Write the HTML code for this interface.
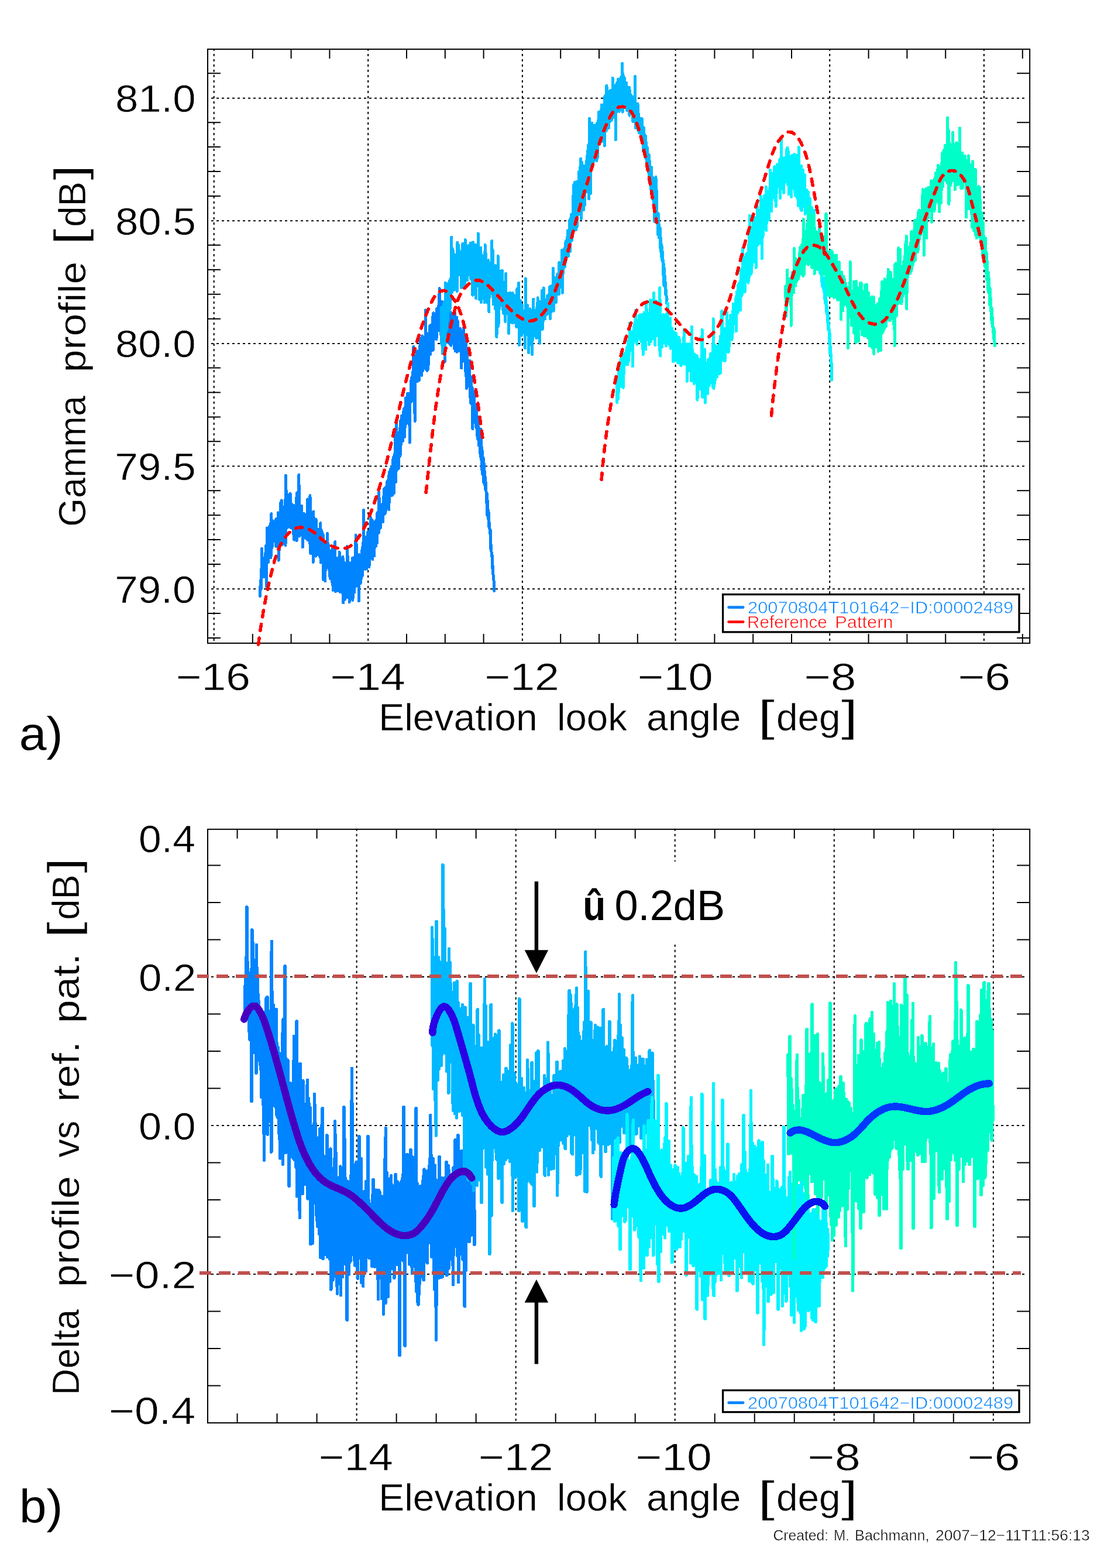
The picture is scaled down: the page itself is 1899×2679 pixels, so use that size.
<!DOCTYPE html>
<html lang="en"><head><meta charset="utf-8"><title>Gamma profile vs reference pattern</title>
<style>html,body{margin:0;padding:0;background:#fff}svg{display:block}text{white-space:pre}</style></head>
<body>
<svg xmlns="http://www.w3.org/2000/svg" width="1899" height="2679" viewBox="0 0 1899 2679" font-family='"Liberation Sans", sans-serif'>
<rect width="1899" height="2679" fill="#fff"/>
<g id="plotA">
<g stroke="#000" stroke-width="2" fill="none">
<path d="M365.70,83.07V1098.90" stroke-dasharray="4 5"/>
<path d="M629.20,83.07V1098.90" stroke-dasharray="4 5"/>
<path d="M892.90,83.07V1098.90" stroke-dasharray="4 5"/>
<path d="M1154.60,83.07V1098.90" stroke-dasharray="4 5"/>
<path d="M1418.20,83.07V1098.90" stroke-dasharray="4 5"/>
<path d="M1681.90,83.07V1098.90" stroke-dasharray="4 5"/>
<path d="M361,167.70H1755.15" stroke-dasharray="4 5"/>
<path d="M361,377.30H1755.15" stroke-dasharray="4 5"/>
<path d="M361,587.00H1755.15" stroke-dasharray="4 5"/>
<path d="M361,796.60H1755.15" stroke-dasharray="4 5"/>
<path d="M361,1006.25H1755.15" stroke-dasharray="4 5"/>
<path d="M431.80,84.07v16M431.80,1098.90v-16M497.60,84.07v16M497.60,1098.90v-16M563.40,84.07v16M563.40,1098.90v-16M695.00,84.07v16M695.00,1098.90v-16M760.80,84.07v16M760.80,1098.90v-16M826.60,84.07v16M826.60,1098.90v-16M958.20,84.07v16M958.20,1098.90v-16M1024.00,84.07v16M1024.00,1098.90v-16M1089.80,84.07v16M1089.80,1098.90v-16M1221.40,84.07v16M1221.40,1098.90v-16M1287.20,84.07v16M1287.20,1098.90v-16M1353.00,84.07v16M1353.00,1098.90v-16M1484.60,84.07v16M1484.60,1098.90v-16M1550.40,84.07v16M1550.40,1098.90v-16M1616.20,84.07v16M1616.20,1098.90v-16M1747.80,84.07v16M1747.80,1098.90v-16M355.00,1089.88h22M1760.15,1089.88h-22M355.00,1047.94h22M1760.15,1047.94h-22M355.00,964.06h22M1760.15,964.06h-22M355.00,922.12h22M1760.15,922.12h-22M355.00,880.18h22M1760.15,880.18h-22M355.00,838.24h22M1760.15,838.24h-22M355.00,754.36h22M1760.15,754.36h-22M355.00,712.42h22M1760.15,712.42h-22M355.00,670.48h22M1760.15,670.48h-22M355.00,628.54h22M1760.15,628.54h-22M355.00,544.66h22M1760.15,544.66h-22M355.00,502.72h22M1760.15,502.72h-22M355.00,460.78h22M1760.15,460.78h-22M355.00,418.84h22M1760.15,418.84h-22M355.00,334.96h22M1760.15,334.96h-22M355.00,293.02h22M1760.15,293.02h-22M355.00,251.08h22M1760.15,251.08h-22M355.00,209.14h22M1760.15,209.14h-22M355.00,125.26h22M1760.15,125.26h-22"/>
</g>
<rect x="355.00" y="84.07" width="1405.15" height="1014.83" fill="none" stroke="#000" stroke-width="2"/>
<g fill="none" stroke-width="5" stroke-linejoin="round" stroke-linecap="round" shape-rendering="crispEdges">
<path stroke="#0084ff" d="M444.5,1018.6L445.3,991.9L446,1007.4L446.7,993.7L447.5,937.4L448.2,975.2L449,959.3L449.7,969.9L450.4,970.4L451.2,985.8L451.9,953.2L452.6,982.5L453.4,945.8L454.1,967.3L454.9,931.6L455.6,1002.3L456.3,902.1L457.1,956.2L457.8,902.6L458.5,960.9L459.3,909.9L460,944.1L460.7,899L461.5,943L462.2,894.8L463,953L463.7,877.7L464.4,936.5L465.2,888.6L465.9,933.3L466.6,894L467.4,922.2L468.1,895.7L468.9,922.7L469.6,890.7L470.3,922.4L471.1,888L471.8,933.6L472.5,886.1L473.3,923.7L474,888.8L474.8,929.7L475.5,875.7L476.2,957.3L477,881.5L477.7,938.9L478.4,876.7L479.2,928.7L479.9,858.1L480.6,904.1L481.4,854.8L482.1,931L482.9,866.2L483.6,897.9L484.3,870.2L485.1,899.2L485.8,869.3L486.5,901.1L487.3,853.5L488,932.1L488.8,812.5L489.5,895.5L490.2,870.6L491,901.5L491.7,845.1L492.4,900.8L493.2,868.6L493.9,888.6L494.6,864.1L495.4,898.9L496.1,843.2L496.9,901.7L497.6,860.8L498.3,902.2L499.1,862.1L499.8,893.3L500.5,866.9L501.3,912.3L502,863.8L502.8,922.3L503.5,868.8L504.2,914.7L505,866.7L505.7,902.6L506.4,850.5L507.2,923.7L507.9,841.9L508.7,913.8L509.4,860.7L510.1,895.6L510.9,811.1L511.6,916.3L512.3,863.1L513.1,898.5L513.8,869.8L514.5,905.5L515.3,864.1L516,914.2L516.8,877.6L517.5,935L518.2,878.6L519,903.4L519.7,877.6L520.4,914.3L521.2,878.7L521.9,919.4L522.7,888.5L523.4,915.9L524.1,881.5L524.9,921.3L525.6,852.9L526.3,922.8L527.1,877.9L527.8,916.9L528.5,886.9L529.3,928.6L530,846.6L530.8,945.6L531.5,886.5L532.2,923.9L533,896.9L533.7,921L534.4,898.5L535.2,960.5L535.9,874.2L536.7,932.9L537.4,892L538.1,945.3L538.9,901L539.6,950.3L540.3,887.4L541.1,932.1L541.8,905.8L542.6,947.6L543.3,907.7L544,941.1L544.8,904.5L545.5,942.4L546.2,922L547,951.9L547.7,893.7L548.4,961.2L549.2,905.4L549.9,952.3L550.7,909.7L551.4,950.3L552.1,913.1L552.9,990.7L553.6,925.9L554.3,969.2L555.1,927.8L555.8,992.8L556.6,927.6L557.3,971.2L558,928.5L558.8,964.7L559.5,911.1L560.2,968.5L561,928.7L561.7,971.5L562.4,943.5L563.2,984.5L563.9,945L564.7,988.8L565.4,940.9L566.1,974.4L566.9,939.6L567.6,994.5L568.3,935.5L569.1,1008.3L569.8,947.2L570.6,998.3L571.3,935L572,988.7L572.8,925.7L573.5,1010.6L574.2,952.9L575,1003.8L575.7,967.5L576.5,1009.2L577.2,963.5L577.9,1004L578.7,963L579.4,1004.5L580.1,942.9L580.9,1011.4L581.6,963.9L582.3,1006.8L583.1,973.6L583.8,1003.5L584.6,966.5L585.3,1013.2L586,950.9L586.8,1029.9L587.5,967.4L588.2,1001.4L589,961.5L589.7,1024.2L590.5,975.4L591.2,1006.8L591.9,973.9L592.7,1003.5L593.4,933.7L594.1,1020.6L594.9,950.9L595.6,999.6L596.3,965.4L597.1,1029L597.8,967.2L598.6,1022.6L599.3,962.5L600,1016.1L600.8,960.9L601.5,1014.5L602.2,953.6L603,1025.5L603.7,953.3L604.5,1002.2L605.2,959.3L605.9,1012.2L606.7,951.4L607.4,990.3L608.1,914L608.9,1001.5L609.6,930.6L610.4,985.3L611.1,960.9L611.8,988.6L612.6,964.1L613.3,1027L614,947.8L614.8,988.6L615.5,960.1L616.2,996.7L617,956.1L617.7,987.7L618.5,940.9L619.2,984.2L619.9,934.8L620.7,973.5L621.4,871.5L622.1,967L622.9,938.6L623.6,969.8L624.4,929.6L625.1,972.3L625.8,917.2L626.6,971.9L627.3,919L628,961.6L628.8,908.7L629.5,955.5L630.2,913L631,968.8L631.7,917.4L632.5,952.9L633.2,883.2L633.9,949.3L634.7,915.2L635.4,946L636.1,887.9L636.9,955.8L637.6,908.8L638.4,931.1L639.1,899.8L639.8,949.7L640.6,900.7L641.3,931.9L642,889.8L642.8,933.1L643.5,893.9L644.3,928.3L645,875.6L645.7,908.7L646.5,877.2L647.2,910.8L647.9,840.8L648.7,902.2L649.4,872.3L650.1,902.3L650.9,869.5L651.6,888.2L652.4,866.8L653.1,883.8L653.8,860.8L654.6,891.7L655.3,849L656,875.1L656.8,834.8L657.5,878.2L658.3,850.6L659,875.7L659.7,832.3L660.5,858.9L661.2,824.1L661.9,854.9L662.7,820.9L663.4,858.7L664.1,813.1L664.9,871L665.6,806.6L666.4,841.1L667.1,801.6L667.8,846.9L668.6,802.8L669.3,834.3L670,797.2L670.8,846.2L671.5,785.5L672.3,816.6L673,779.9L673.7,842.3L674.5,775.3L675.2,813.7L675.9,745.4L676.7,823.4L677.4,721.6L678.2,803.7L678.9,740.3L679.6,791.2L680.4,739.1L681.1,800.5L681.8,740.3L682.6,779L683.3,732L684,779.3L684.8,718.3L685.5,759.4L686.3,710.5L687,752.5L687.7,714L688.5,753.6L689.2,704L689.9,737.9L690.7,698.2L691.4,746.7L692.2,696.3L692.9,728.7L693.6,679.7L694.4,723.7L695.1,679L695.8,721.6L696.6,672.3L697.3,700.7L698,672.8L698.8,709.6L699.5,677.5L700.3,756.1L701,674L701.7,683.6L702.5,650.7L703.2,686.3L703.9,644.4L704.7,679.1L705.4,635.6L706.2,681.6L706.9,592.4L707.6,673.3L708.4,622.1L709.1,719.5L709.8,629.2L710.6,652.2L711.3,616.3L712.1,649.4L712.8,599.6L713.5,652L714.3,603.9L715,644.8L715.7,606.7L716.5,649.6L717.2,592.2L717.9,630L718.7,578.4L719.4,638.9L720.2,585L720.9,641.4L721.6,573.8L722.4,633.4L723.1,577.6L723.8,614.4L724.6,576.8L725.3,614.7L726.1,581.8L726.8,629.4L727.5,530L728.3,631.4L729,568.5L729.7,633.4L730.5,577.4L731.2,631.6L731.9,571.1L732.7,622L733.4,570.2L734.2,601.9L734.9,556.3L735.6,605.6L736.4,555.6L737.1,599.4L737.8,555.7L738.6,583L739.3,541.6L740.1,598.4L740.8,534.7L741.5,579.9L742.3,535.9L743,571.7L743.7,538.9L744.5,577.1L745.2,541.6L746,579.9L746.7,527.2L747.4,565.2L748.2,528.1L748.9,561.8L749.6,521.9L750.4,564.9L751.1,492.6L751.8,556.5L752.6,514.4L753.3,571.5L754.1,515.9L754.8,561.4L755.5,515.4L756.3,568.2L757,528.3L757.7,588.6L758.5,518.8L759.2,577.5L760,527L760.7,617.4L761.4,528.4L762.2,577.4L762.9,532.9L763.6,573.4L764.4,530.7L765.1,584.7L765.9,517L766.6,573.8L767.3,534.3L768.1,584.4L768.8,537.7L769.5,588.7L770.3,533.6L771,590.2L771.7,539.5L772.5,581.9L773.2,541L774,580.1L774.7,539.3L775.4,581.6L776.2,549.5L776.9,596.3L777.6,534.9L778.4,599.9L779.1,548.1L779.9,592L780.6,542.1L781.3,601.4L782.1,547.9L782.8,599.6L783.5,564.3L784.3,600L785,562.5L785.7,593.5L786.5,561.6L787.2,599.7L788,565.3L788.7,628.8L789.4,565.2L790.2,607.1L790.9,571.1L791.6,617.2L792.4,560.1L793.1,611.7L793.9,581.5L794.6,616.1L795.3,586.8L796.1,641.8L796.8,577.3L797.5,663.6L798.3,601.5L799,648.5L799.8,619.3L800.5,656.8L801.2,627.9L802,660.3L802.7,616.1L803.4,678.4L804.2,643.1L804.9,689.4L805.6,644.7L806.4,687L807.1,662.2L807.9,732.8L808.6,668.3L809.3,721.6L810.1,668.5L810.8,711.4L811.5,690.6L812.3,716.2L813,691.4L813.8,730.2L814.5,703L815.2,743.7L816,712.3L816.7,749.6L817.4,726.8L818.2,760.6L818.9,731.7L819.6,761L820.4,746L821.1,780L821.9,733L822.6,786L823.3,763.9L824.1,808.7L824.8,771.1L825.5,811.7L826.3,782.4L827,825.3L827.8,793.2L828.5,828.8L829.2,814.7L830,837.3L830.7,825.2L831.4,857.9L832.2,842.1L832.9,880.9L833.7,855.9L834.4,886.6L835.1,875L835.9,900.9L836.6,893.8L837.3,911.2L838.1,905.3L838.8,938.2L839.5,931.5L840.3,949.9L841,947.2L841.8,971.4L842.5,967.9L843.2,986.7L844,991.9L844.7,1009.4"/>
<path stroke="#00b8ff" d="M754,524.9L754.7,587.3L755.4,547.6L756.2,603.6L756.9,525.5L757.7,589.5L758.4,519.7L759.1,594.6L759.9,514.8L760.6,607.3L761.3,483.1L762.1,566.5L762.8,514.1L763.6,562L764.3,489.4L765,548.9L765.8,484.9L766.5,527.2L767.2,482.6L768,531.8L768.7,479.2L769.4,527.3L770.2,475.8L770.9,511.8L771.7,405L772.4,500L773.1,424.4L773.9,494.4L774.6,428.8L775.3,495.9L776.1,454.6L776.8,483.7L777.6,436.7L778.3,494.9L779,435L779.8,473.5L780.5,437.1L781.2,497.7L782,414.5L782.7,468.6L783.4,418.5L784.2,466.3L784.9,427.2L785.7,469.5L786.4,430.7L787.1,463.1L787.9,429.9L788.6,491.4L789.3,442.9L790.1,472.8L790.8,416.2L791.6,488.8L792.3,437.1L793,484.8L793.8,422.9L794.5,487.4L795.2,409.7L796,466.8L796.7,419.9L797.5,474.1L798.2,422.2L798.9,478.9L799.7,427.7L800.4,462.4L801.1,419.5L801.9,468.2L802.6,425.1L803.3,463.8L804.1,415L804.8,476.7L805.6,431.4L806.3,472.4L807,436.5L807.8,504.3L808.5,413.9L809.2,495.9L810,427.4L810.7,502.5L811.5,429.5L812.2,502.8L812.9,418.2L813.7,509.7L814.4,431.4L815.1,474.8L815.9,419L816.6,480.1L817.3,398.9L818.1,489L818.8,424.4L819.6,511.7L820.3,432.7L821,497.4L821.8,423L822.5,516.5L823.2,435.4L824,507.9L824.7,442.3L825.5,498.7L826.2,437.8L826.9,510.3L827.7,443.3L828.4,516.7L829.1,418.2L829.9,499.3L830.6,433.5L831.4,514.3L832.1,449L832.8,517.1L833.6,458.3L834.3,492L835,444.7L835.8,532.7L836.5,458.9L837.2,503.8L838,452.8L838.7,498.1L839.5,469L840.2,495.1L840.9,411.8L841.7,503.5L842.4,428.5L843.1,520.1L843.9,468.3L844.6,502.9L845.4,466.7L846.1,527.3L846.8,453.7L847.6,509.6L848.3,461.5L849,575.6L849.8,475.8L850.5,530.2L851.2,437.5L852,557.2L852.7,463.2L853.5,527.3L854.2,478.5L854.9,521.9L855.7,481.9L856.4,519.9L857.1,462.6L857.9,518.7L858.6,462.4L859.4,529.5L860.1,482.5L860.8,535.5L861.6,487.2L862.3,525.5L863,484.8L863.8,549.5L864.5,467.2L865.3,535.8L866,506.6L866.7,535.6L867.5,501.3L868.2,528.8L868.9,501.7L869.7,569.6L870.4,502.4L871.1,540.3L871.9,500.1L872.6,550.7L873.4,506.7L874.1,540.1L874.8,514.5L875.6,551.4L876.3,500.7L877,551.9L877.8,516.4L878.5,551L879.3,504.9L880,548.9L880.7,520.4L881.5,550.8L882.2,518.8L882.9,558.7L883.7,493.6L884.4,549.8L885.1,527.9L885.9,557.3L886.6,483.6L887.4,589.5L888.1,519.6L888.8,564.1L889.6,513.4L890.3,558.7L891,526.4L891.8,573.2L892.5,521L893.3,567.4L894,531.3L894.7,557.8L895.5,535L896.2,568.7L896.9,531.7L897.7,594.9L898.4,475.9L899.2,558.8L899.9,537.2L900.6,570.9L901.4,521.5L902.1,571.8L902.8,533.5L903.6,602.5L904.3,531.5L905,577.7L905.8,527.6L906.5,588.5L907.3,532.9L908,563.1L908.7,537.2L909.5,605.8L910.2,530L910.9,579.6L911.7,511L912.4,569.2L913.2,530.4L913.9,573.8L914.6,532.6L915.4,565.5L916.1,533.5L916.8,577.5L917.6,525.5L918.3,577.2L919.1,508.8L919.8,576.9L920.5,523.4L921.3,550.6L922,525.9L922.7,586.4L923.5,515.6L924.2,553.2L924.9,516.7L925.7,561.8L926.4,496.5L927.2,562.6L927.9,518.4L928.6,548.3L929.4,491.9L930.1,539.3L930.8,513.1L931.6,545L932.3,518.2L933.1,535.9L933.8,512.3L934.5,537.1L935.3,505.5L936,536.4L936.7,512L937.5,532.2L938.2,503L938.9,531.2L939.7,489.9L940.4,544.6L941.2,495.2L941.9,533.1L942.6,488.4L943.4,525L944.1,488.5L944.8,519.1L945.6,458.6L946.3,531.4L947.1,478.2L947.8,516.4L948.5,474.2L949.3,509.6L950,483.9L950.7,516.5L951.5,478L952.2,502.4L953,468.4L953.7,496.3L954.4,468L955.2,503L955.9,448.5L956.6,486.7L957.4,454.6L958.1,484.4L958.8,449.5L959.6,481.7L960.3,427.5L961.1,500.5L961.8,432L962.5,468L963.3,443.9L964,456.8L964.7,424.5L965.5,455.6L966.2,414.6L967,447.6L967.7,411.3L968.4,439.5L969.2,405.7L969.9,433.7L970.6,393.7L971.4,437.4L972.1,402.6L972.8,423.7L973.6,376.1L974.3,429.7L975.1,373.1L975.8,406.4L976.5,366.6L977.3,411.2L978,372.6L978.7,404L979.5,334.8L980.2,391.3L981,315.2L981.7,393L982.4,311.8L983.2,386.1L983.9,311.3L984.6,392.8L985.4,310.5L986.1,388L986.9,314.2L987.6,362.1L988.3,316.9L989.1,366.4L989.8,292.8L990.5,350L991.3,286L992,351L992.7,271L993.5,373.9L994.2,277L995,347.5L995.7,286.6L996.4,352L997.2,283.2L997.9,358.5L998.6,286.2L999.4,351.1L1000.1,284.1L1000.9,321.2L1001.6,282.1L1002.3,320.8L1003.1,267L1003.8,327.5L1004.5,257.1L1005.3,312.2L1006,246.8L1006.7,339.8L1007.5,202.5L1008.2,299.1L1009,238.6L1009.7,330.6L1010.4,238.6L1011.2,282.8L1011.9,210.4L1012.6,283.5L1013.4,249L1014.1,277.5L1014.9,232.5L1015.6,268.8L1016.3,213.8L1017.1,270.9L1017.8,219.9L1018.5,272.7L1019.3,214.1L1020,275.1L1020.8,209.9L1021.5,268.4L1022.2,206.1L1023,246.9L1023.7,191.2L1024.4,241.5L1025.2,204.2L1025.9,236.7L1026.6,192.9L1027.4,238.4L1028.1,178.9L1028.9,241.4L1029.6,180.1L1030.3,238L1031.1,185.7L1031.8,222.8L1032.5,178.7L1033.3,249.1L1034,163.7L1034.8,217.3L1035.5,177.6L1036.2,223.5L1037,146.2L1037.7,210.5L1038.4,168.7L1039.2,201.8L1039.9,170.6L1040.6,218.4L1041.4,176L1042.1,208.3L1042.9,154.8L1043.6,204.4L1044.3,160.3L1045.1,206L1045.8,170L1046.5,184.8L1047.3,133.4L1048,201L1048.8,151.3L1049.5,192.1L1050.2,152.6L1051,183.1L1051.7,145.9L1052.4,238.8L1053.2,145.6L1053.9,191.5L1054.7,141L1055.4,184.2L1056.1,135.7L1056.9,181.9L1057.6,135.6L1058.3,190.6L1059.1,142.5L1059.8,188L1060.5,150.3L1061.3,175.3L1062,131.2L1062.8,186.9L1063.5,108.1L1064.2,191.3L1065,125.6L1065.7,183.1L1066.4,153.2L1067.2,174.8L1067.9,133.5L1068.7,174.8L1069.4,156L1070.1,178.6L1070.9,141.5L1071.6,188.6L1072.3,158.3L1073.1,188.2L1073.8,158.7L1074.5,180.6L1075.3,149.1L1076,197.3L1076.8,155.2L1077.5,180L1078.2,161.6L1079,193.7L1079.7,166.8L1080.4,193.6L1081.2,166.2L1081.9,207.9L1082.7,165.5L1083.4,195.8L1084.1,166.3L1084.9,207.7L1085.6,130.3L1086.3,218.6L1087.1,180.1L1087.8,209.7L1088.6,181L1089.3,208.9L1090,177.3L1090.8,222.5L1091.5,194.5L1092.2,226.9L1093,202.3L1093.7,225.6L1094.4,204.1L1095.2,233.2L1095.9,201.9L1096.7,235L1097.4,203.2L1098.1,235.9L1098.9,219.3L1099.6,258.8L1100.3,217.8L1101.1,257.9L1101.8,229.7L1102.6,261L1103.3,232L1104,271.4L1104.8,243.9L1105.5,282.5L1106.2,252L1107,284.4L1107.7,267.9L1108.4,293.8L1109.2,264.3L1109.9,310L1110.7,275.7L1111.4,314.5L1112.1,286.5L1112.9,324.2L1113.6,285.8L1114.3,329.2L1115.1,301.9L1115.8,340.5L1116.6,316.5L1117.3,351.9L1118,314.2L1118.8,378.5L1119.5,338.6L1120.2,375L1121,302.2L1121.7,377.5L1122.5,325.1L1123.2,379.7L1123.9,363.8L1124.7,401L1125.4,365.5L1126.1,406.1L1126.9,383.7L1127.6,404.9L1128.3,390L1129.1,429.4L1129.8,407.4L1130.6,438.9L1131.3,421.3L1132,446.2L1132.8,430.7L1133.5,469.4L1134.2,450.2L1135,488.3L1135.7,458.7L1136.5,486.7L1137.2,481.7L1137.9,504.1L1138.7,495.5L1139.4,517.8L1140.1,510.7"/>
<path stroke="#00f4ff" d="M1054.2,657.1L1054.9,687.7L1055.7,649.6L1056.4,682.3L1057.1,634.8L1057.9,670.2L1058.6,626.8L1059.3,658L1060.1,640.3L1060.8,655.8L1061.6,613.5L1062.3,660.1L1063,623.5L1063.8,649.6L1064.5,614.1L1065.2,662.4L1066,605.3L1066.7,638.6L1067.4,606.2L1068.2,623.2L1068.9,602.9L1069.7,620.3L1070.4,599.7L1071.1,622.8L1071.9,592.9L1072.6,622.8L1073.3,583.4L1074.1,617.6L1074.8,581.6L1075.6,605.8L1076.3,552L1077,598.9L1077.8,576.5L1078.5,598.1L1079.2,575.2L1080,593.9L1080.7,566.7L1081.5,626L1082.2,567.7L1082.9,586.3L1083.7,558.1L1084.4,582.2L1085.1,549.8L1085.9,581.8L1086.6,530.5L1087.3,583.6L1088.1,546.6L1088.8,588.3L1089.6,548L1090.3,570.1L1091,550.4L1091.8,577.6L1092.5,539.3L1093.2,579.8L1094,538.3L1094.7,571.4L1095.5,544.2L1096.2,583.6L1096.9,537.2L1097.7,566L1098.4,538.5L1099.1,605.8L1099.9,539.1L1100.6,594.1L1101.3,534.3L1102.1,579.6L1102.8,535.2L1103.6,596.9L1104.3,516.4L1105,581.1L1105.8,529.2L1106.5,576.3L1107.2,538.9L1108,564.7L1108.7,535.2L1109.5,588.5L1110.2,537.8L1110.9,568.1L1111.7,512.6L1112.4,583.7L1113.1,518.2L1113.9,570.2L1114.6,524.8L1115.4,571.7L1116.1,512.5L1116.8,579L1117.6,500.3L1118.3,567.2L1119,526.8L1119.8,589.7L1120.5,517.6L1121.2,571.5L1122,514.5L1122.7,566.2L1123.5,539.2L1124.2,573.7L1124.9,533.1L1125.7,564.7L1126.4,543.4L1127.1,597.9L1127.9,491.5L1128.6,608.2L1129.4,546.8L1130.1,588L1130.8,542.6L1131.6,593.2L1132.3,549.3L1133,570L1133.8,537.5L1134.5,585.3L1135.3,552.4L1136,583L1136.7,550.4L1137.5,587.3L1138.2,537.7L1138.9,591.2L1139.7,535.5L1140.4,580.2L1141.1,517.7L1141.9,586.9L1142.6,551.8L1143.4,582.4L1144.1,550L1144.8,590.6L1145.6,543.7L1146.3,595.3L1147,562.8L1147.8,585.6L1148.5,560.7L1149.3,587L1150,571.6L1150.7,617.9L1151.5,566.8L1152.2,609.1L1152.9,578.3L1153.7,602.2L1154.4,578.4L1155.1,615.3L1155.9,569.5L1156.6,607.4L1157.4,575L1158.1,619.4L1158.8,577.8L1159.6,620.1L1160.3,576L1161,619.7L1161.8,581L1162.5,614.4L1163.3,588.9L1164,624.8L1164.7,588.7L1165.5,622.4L1166.2,589.3L1166.9,617L1167.7,588.8L1168.4,616.3L1169.2,563.2L1169.9,622.2L1170.6,593.3L1171.4,617.2L1172.1,595.7L1172.8,619.4L1173.6,587.7L1174.3,651.4L1175,602.9L1175.8,623.4L1176.5,595.3L1177.3,630.2L1178,587.8L1178.7,633.9L1179.5,595.1L1180.2,627.4L1180.9,600.3L1181.7,650.8L1182.4,558.2L1183.2,642.1L1183.9,598.4L1184.6,640.5L1185.4,615.8L1186.1,655.5L1186.8,604.8L1187.6,643.6L1188.3,620.3L1189,648.5L1189.8,607.4L1190.5,649L1191.3,608.2L1192,683.2L1192.7,616.1L1193.5,661.8L1194.2,613.8L1194.9,658.6L1195.7,618L1196.4,648.5L1197.2,613.9L1197.9,665.8L1198.6,615.2L1199.4,651.3L1200.1,563L1200.8,678.7L1201.6,622.9L1202.3,654.5L1203.1,625.3L1203.8,662L1204.5,596.7L1205.3,688.2L1206,623.5L1206.7,663.6L1207.5,620.2L1208.2,661L1208.9,623.8L1209.7,672.5L1210.4,614.6L1211.2,652.4L1211.9,623.4L1212.6,658.8L1213.4,612.1L1214.1,649.7L1214.8,603.8L1215.6,653.6L1216.3,604L1217.1,642.3L1217.8,616.9L1218.5,661L1219.3,544.9L1220,663.7L1220.7,603.4L1221.5,654.3L1222.2,590.2L1222.9,648.8L1223.7,608.7L1224.4,632.1L1225.2,606.2L1225.9,643.8L1226.6,591.6L1227.4,631.9L1228.1,598.2L1228.8,638.7L1229.6,588.8L1230.3,626.4L1231.1,575.2L1231.8,637.1L1232.5,573.2L1233.3,614.4L1234,531.2L1234.7,615.9L1235.5,566L1236.2,604L1237,566.3L1237.7,614.4L1238.4,561L1239.2,616.8L1239.9,570.6L1240.6,601.2L1241.4,561.4L1242.1,595.9L1242.8,534.2L1243.6,587.9L1244.3,551.9L1245.1,602L1245.8,555.6L1246.5,591.5L1247.3,547.9L1248,576.7L1248.7,538.3L1249.5,575.9L1250.2,551.6L1251,580.4L1251.7,547.1L1252.4,569L1253.2,519.2L1253.9,553.7L1254.6,535.5L1255.4,552L1256.1,518.7L1256.8,553.1L1257.6,510.4L1258.3,565.7L1259.1,498.5L1259.8,536.3L1260.5,498L1261.3,534.1L1262,485.7L1262.7,517.7L1263.5,488.3L1264.2,529.4L1265,481.4L1265.7,529.7L1266.4,463L1267.2,506.2L1267.9,458.9L1268.6,503.3L1269.4,424L1270.1,491.9L1270.9,439.2L1271.6,492.6L1272.3,444.3L1273.1,498.7L1273.8,446.2L1274.5,477.6L1275.3,435.4L1276,474.2L1276.7,432.6L1277.5,470.9L1278.2,436.7L1279,483.2L1279.7,417.5L1280.4,474.1L1281.2,368.4L1281.9,455.9L1282.6,408.8L1283.4,468.8L1284.1,388.4L1284.9,465.1L1285.6,405.8L1286.3,444.7L1287.1,380.3L1287.8,447.6L1288.5,399.9L1289.3,437L1290,371.7L1290.7,430.2L1291.5,376.4L1292.2,457.4L1293,373.9L1293.7,409.1L1294.4,353.3L1295.2,418.8L1295.9,363.2L1296.6,415L1297.4,372.3L1298.1,399.1L1298.9,358.7L1299.6,415.6L1300.3,335.1L1301.1,402.7L1301.8,340.5L1302.5,442L1303.3,348.8L1304,404.6L1304.8,351.9L1305.5,384.4L1306.2,334.5L1307,383.1L1307.7,336.9L1308.4,386.4L1309.2,319.3L1309.9,393.8L1310.6,329.8L1311.4,370.8L1312.1,328.7L1312.9,359.7L1313.6,327.3L1314.3,375.5L1315.1,321.6L1315.8,346.3L1316.5,290.6L1317.3,352.8L1318,299.2L1318.8,360.6L1319.5,305.1L1320.2,339.2L1321,296L1321.7,334.4L1322.4,296.3L1323.2,328.7L1323.9,284.8L1324.6,328.7L1325.4,289.9L1326.1,352.5L1326.9,284.8L1327.6,328.9L1328.3,280.9L1329.1,319.4L1329.8,281.9L1330.5,314.8L1331.3,286L1332,314.9L1332.8,273.1L1333.5,338.9L1334.2,271.1L1335,322.1L1335.7,235.3L1336.4,322.8L1337.2,268.9L1337.9,316.8L1338.7,278L1339.4,329.4L1340.1,271.3L1340.9,313.3L1341.6,269.3L1342.3,310.6L1343.1,274.2L1343.8,308.9L1344.5,255.6L1345.3,305.7L1346,252.1L1346.8,316.3L1347.5,259.2L1348.2,332L1349,280.8L1349.7,303.6L1350.4,279.1L1351.2,316.9L1351.9,266.6L1352.7,336.5L1353.4,270.9L1354.1,322.3L1354.9,265.4L1355.6,317.2L1356.3,269.7L1357.1,314.8L1357.8,263.5L1358.5,328.8L1359.3,270.2L1360,334.6L1360.8,265.2L1361.5,321.2L1362.2,286.1L1363,339.4L1363.7,275L1364.4,351.4L1365.2,251.4L1365.9,339L1366.7,282.9L1367.4,335.2L1368.1,295.8L1368.9,358L1369.6,283.5L1370.3,359.8L1371.1,298.2L1371.8,343.7L1372.6,290.3L1373.3,352.4L1374,302.7L1374.8,343.4L1375.5,298.7L1376.2,365.7L1377,323.6L1377.7,352.2L1378.4,324.1L1379.2,362.3L1379.9,326.7L1380.7,363L1381.4,328.6L1382.1,390.3L1382.9,344.4L1383.6,397.7L1384.3,339L1385.1,392.2L1385.8,361.4L1386.6,389.9L1387.3,354.1L1388,420.9L1388.8,373.8L1389.5,420.5L1390.2,369L1391,415.7L1391.7,359.1L1392.4,422.7L1393.2,394.2L1393.9,444L1394.7,403.2L1395.4,438.3L1396.1,408.6L1396.9,442.7L1397.6,417.3L1398.3,441L1399.1,432.8L1399.8,461.1L1400.6,426.9L1401.3,465.1L1402,440.9L1402.8,468.3L1403.5,439.9L1404.2,481.3L1405,454.2L1405.7,489.5L1406.5,474.1L1407.2,493.5L1407.9,482.8L1408.7,498.9L1409.4,474.8L1410.1,517.3L1410.9,496.1L1411.6,520.1L1412.3,513.1L1413.1,536L1413.8,523.7L1414.6,550.4L1415.3,538.5L1416,563.7L1416.8,553.7L1417.5,585.4L1418.2,569.1L1419,605L1419.7,593L1420.5,621.9L1421.2,621L1421.9,649.2"/>
<path stroke="#00ffc8" d="M1342.7,488.7L1343.5,540.2L1344.2,500.5L1344.9,528.7L1345.7,461.4L1346.4,511L1347.2,477.1L1347.9,504.5L1348.6,476.6L1349.4,508.9L1350.1,478.5L1350.8,501.1L1351.6,475.6L1352.3,556.3L1353.1,472.2L1353.8,504.3L1354.5,465.3L1355.3,493.4L1356,465.8L1356.7,499.7L1357.5,424.2L1358.2,478.9L1359,458.1L1359.7,488.6L1360.4,441.9L1361.2,481.9L1361.9,448.5L1362.6,471.5L1363.4,445.8L1364.1,477.2L1364.8,445.3L1365.6,472.5L1366.3,433.3L1367.1,465.2L1367.8,422.5L1368.5,464.7L1369.3,421.6L1370,468.3L1370.7,418.2L1371.5,467.5L1372.2,409L1373,471.7L1373.7,374.8L1374.4,469.1L1375.2,407.4L1375.9,453.2L1376.6,406.8L1377.4,448.8L1378.1,395.1L1378.8,450L1379.6,381.8L1380.3,433.4L1381.1,393.7L1381.8,452.5L1382.5,352.2L1383.3,433.4L1384,395.5L1384.7,443.3L1385.5,381.7L1386.2,450.5L1387,368.2L1387.7,457.3L1388.4,400.4L1389.2,455.4L1389.9,401.7L1390.6,454.3L1391.4,367.4L1392.1,467.9L1392.9,396.7L1393.6,459.6L1394.3,395.1L1395.1,435.9L1395.8,396.7L1396.5,460.3L1397.3,410.2L1398,461.1L1398.7,413.5L1399.5,443.3L1400.2,381.6L1401,452.5L1401.7,415.1L1402.4,447.8L1403.2,407.1L1403.9,446.3L1404.6,418.5L1405.4,469.8L1406.1,408.5L1406.9,453.3L1407.6,414.5L1408.3,467.9L1409.1,404.4L1409.8,461.3L1410.5,430L1411.3,471.4L1412,364.9L1412.8,486.2L1413.5,434.5L1414.2,493.3L1415,431.6L1415.7,504.1L1416.4,448L1417.2,478.3L1417.9,429.3L1418.6,506.3L1419.4,453.6L1420.1,502.5L1420.9,428L1421.6,505.7L1422.3,430L1423.1,492.5L1423.8,450.8L1424.5,489.4L1425.3,457.7L1426,508.5L1426.8,436.2L1427.5,507.7L1428.2,441.6L1429,501.5L1429.7,436L1430.4,494.5L1431.2,467L1431.9,512.6L1432.6,452.8L1433.4,503.7L1434.1,447.7L1434.9,512.1L1435.6,466.3L1436.3,507.2L1437.1,467L1437.8,546L1438.5,464.8L1439.3,520.8L1440,470.5L1440.8,530.9L1441.5,471.8L1442.2,522.1L1443,475.3L1443.7,515.3L1444.4,491.8L1445.2,516.1L1445.9,484.1L1446.7,520L1447.4,490L1448.1,524.2L1448.9,499.2L1449.6,594.5L1450.3,505.9L1451.1,532L1451.8,501.8L1452.5,541.3L1453.3,447.4L1454,532L1454.8,511.6L1455.5,556.2L1456.2,499.5L1457,556L1457.7,504.7L1458.4,545.1L1459.2,481.5L1459.9,569.3L1460.7,498.1L1461.4,569.8L1462.1,507.1L1462.9,585.4L1463.6,480.6L1464.3,576.7L1465.1,494.6L1465.8,559.1L1466.5,491.8L1467.3,583.3L1468,511.7L1468.8,561.7L1469.5,510L1470.2,549.9L1471,482.9L1471.7,560.5L1472.4,483.8L1473.2,571.7L1473.9,498.4L1474.7,559.8L1475.4,498.4L1476.1,565.2L1476.9,511.5L1477.6,574.3L1478.3,487.3L1479.1,573.9L1479.8,510.5L1480.6,566.9L1481.3,485.8L1482,567.1L1482.8,517.5L1483.5,577.5L1484.2,499.7L1485,572.6L1485.7,509.4L1486.4,590.9L1487.2,516.9L1487.9,580.6L1488.7,517.1L1489.4,580.2L1490.1,506.9L1490.9,594.2L1491.6,527.4L1492.3,586.6L1493.1,507L1493.8,604.6L1494.6,525.8L1495.3,569.5L1496,527.2L1496.8,592.7L1497.5,522L1498.2,560.8L1499,523.2L1499.7,589L1500.4,518.8L1501.2,600.4L1501.9,524.7L1502.7,584.5L1503.4,511.6L1504.1,557.1L1504.9,508.6L1505.6,598.6L1506.3,498.1L1507.1,570.3L1507.8,481L1508.6,566.7L1509.3,489.9L1510,566.5L1510.8,482.8L1511.5,561.9L1512.2,476.7L1513,552.1L1513.7,478.1L1514.5,557.5L1515.2,482.2L1515.9,541.6L1516.7,503.4L1517.4,537.3L1518.1,460.2L1518.9,546.9L1519.6,470L1520.3,531.6L1521.1,473.1L1521.8,547.7L1522.6,465.3L1523.3,543L1524,475.9L1524.8,526.5L1525.5,488.7L1526.2,543.8L1527,477L1527.7,554.2L1528.5,489.3L1529.2,590.8L1529.9,452.2L1530.7,520.6L1531.4,449.9L1532.1,540.2L1532.9,452.3L1533.6,512.3L1534.3,472.2L1535.1,519L1535.8,423.7L1536.6,509.9L1537.3,463.5L1538,505.5L1538.8,426.2L1539.5,517.5L1540.2,455.5L1541,518.9L1541.7,457.3L1542.5,496.8L1543.2,456.5L1543.9,505.5L1544.7,446.5L1545.4,501.9L1546.1,438.3L1546.9,482.3L1547.6,417.1L1548.4,472.5L1549.1,403.2L1549.8,527.8L1550.6,431.9L1551.3,474.2L1552,438.7L1552.8,468.3L1553.5,426L1554.2,456.1L1555,421.4L1555.7,467.2L1556.5,415L1557.2,464.3L1557.9,395.8L1558.7,458.9L1559.4,402.1L1560.1,452.6L1560.9,416.5L1561.6,446.8L1562.4,393L1563.1,444.6L1563.8,376.1L1564.6,444.7L1565.3,401.6L1566,429.3L1566.8,392.9L1567.5,428.3L1568.2,372.6L1569,430.5L1569.7,361.6L1570.5,413.9L1571.2,358.9L1571.9,407.7L1572.7,374.5L1573.4,402.2L1574.1,366.7L1574.9,396L1575.6,364.9L1576.4,390.8L1577.1,323.7L1577.8,392.2L1578.6,343.5L1579.3,436.1L1580,332.8L1580.8,376.9L1581.5,334L1582.3,380.5L1583,322L1583.7,406.7L1584.5,329L1585.2,359.9L1585.9,328.9L1586.7,371.8L1587.4,320.3L1588.1,359L1588.9,325.7L1589.6,359.3L1590.4,327.9L1591.1,351.8L1591.8,308.9L1592.6,379.4L1593.3,309.2L1594,352.2L1594.8,315.5L1595.5,355L1596.3,316.3L1597,360.8L1597.7,304.6L1598.5,348.2L1599.2,295.7L1599.9,335.4L1600.7,302.3L1601.4,344L1602.1,290.3L1602.9,340.1L1603.6,282.5L1604.4,347.1L1605.1,294L1605.8,362L1606.6,285L1607.3,342.3L1608,285.6L1608.8,346.5L1609.5,278.8L1610.3,320.4L1611,260.7L1611.7,318.7L1612.5,274.6L1613.2,306.8L1613.9,255.7L1614.7,292.3L1615.4,248.5L1616.2,291.5L1616.9,264.1L1617.6,310L1618.4,260.2L1619.1,312.9L1619.8,201.2L1620.6,289.9L1621.3,222.5L1622,348.6L1622.8,244.1L1623.5,300.6L1624.3,256.1L1625,316.2L1625.7,251L1626.5,307.3L1627.2,246.5L1627.9,308.7L1628.7,226.3L1629.4,292.9L1630.2,252.3L1630.9,295.2L1631.6,251.9L1632.4,323.7L1633.1,247.3L1633.8,303.6L1634.6,243.9L1635.3,315.4L1636,244.8L1636.8,302L1637.5,254.9L1638.3,315.4L1639,244.8L1639.7,312L1640.5,218.7L1641.2,315.3L1641.9,270.5L1642.7,321.7L1643.4,276.3L1644.2,314.5L1644.9,261.4L1645.6,321.1L1646.4,266.6L1647.1,302.9L1647.8,283.4L1648.6,302.8L1649.3,266.6L1650.1,311.2L1650.8,273.7L1651.5,371.2L1652.3,279.8L1653,329.3L1653.7,281.5L1654.5,328.1L1655.2,265.9L1655.9,356.8L1656.7,280.4L1657.4,341.9L1658.2,283L1658.9,348.2L1659.6,282.7L1660.4,364.7L1661.1,284.4L1661.8,388.5L1662.6,276L1663.3,387.4L1664.1,316.5L1664.8,394.7L1665.5,299.7L1666.3,386.7L1667,289.1L1667.7,402L1668.5,329.7L1669.2,406.8L1669.9,339.9L1670.7,381.2L1671.4,324.7L1672.2,405L1672.9,318.5L1673.6,391.3L1674.4,320.6L1675.1,403.7L1675.8,342.4L1676.6,415.1L1677.3,369.5L1678.1,415.7L1678.8,364.3L1679.5,436.9L1680.3,380.3L1681,436.6L1681.7,402.9L1682.5,442.3L1683.2,408.8L1684,455.5L1684.7,406.8L1685.4,466.4L1686.2,431.4L1686.9,478.2L1687.6,446.3L1688.4,494.5L1689.1,464.7L1689.8,500.4L1690.6,475.4L1691.3,520.2L1692.1,492.5L1692.8,522.3L1693.5,509.9L1694.3,545.9L1695,525.6L1695.7,553.2L1696.5,542.1L1697.2,566.7L1698,558.7L1698.7,579.4L1699.4,564.1L1700.2,591"/>
</g>
<g fill="none" stroke="#ff0000" stroke-width="5.6" stroke-dasharray="11.2 12.6" stroke-linecap="round" stroke-linejoin="round" shape-rendering="crispEdges">
<path d="M441.7,1101.1L442.7,1093L443.8,1085L445,1077L446.1,1069.1L447.4,1061.2L448.7,1053.4L450,1045.5L451.4,1037.7L452.8,1029.9L454.3,1022.1L455.9,1014.4L457.5,1006.6L459.2,998.8L461,991L462.8,983.1L464.8,975.3L466.7,967.4L468.8,959.5L471.2,951.7L473.8,944L476.8,936.5L480.2,929.4L484.2,922.6L488.9,916.2L494.3,910.3L500.4,905.3L507.2,901.9L514.6,900.8L522.5,902.1L530.2,905.4L537.3,910L543.5,915.4L549.5,920.9L555.6,926L562.1,930.4L569.2,934L576.9,936.6L585,937.6L592.6,936.3L599.3,932.8L605.3,927.6L610.6,921.3L615.2,914.5L619.4,907.4L623.2,900.3L626.6,893L629.7,885.7L632.7,878.3L635.6,870.8L638.3,863.3L641,855.8L643.5,848.3L646,840.7L648.4,833.1L650.7,825.4L653,817.8L655.2,810.1L657.3,802.4L659.4,794.7L661.4,786.9L663.4,779.2L665.3,771.4L667.2,763.6L669.1,755.8L670.9,748L672.7,740.2L674.6,732.4L676.4,724.6L678.2,716.8L680,708.9L681.8,701.1L683.6,693.3L685.4,685.5L687.3,677.7L689.2,669.9L691.1,662.1L693,654.4L695,646.6L697,638.8L699,631.1L701.1,623.4L703.2,615.7L705.4,608L707.6,600.3L709.9,592.7L712.2,585.1L714.5,577.5L717,569.9L719.4,562.3L722,554.8L724.7,547.3L727.5,539.8L730.5,532.3L733.7,524.8L737.1,517.4L740.8,509.9L745.3,503.1L751.6,498L759.3,496.2L765.9,499.4L771.4,505.3L776.1,511.7L780.1,518.5L783.6,525.6L786.6,533L789.2,540.6L791.4,548.3L793.4,556.2L795.2,564.1L796.9,572L798.5,579.9L800.1,587.8L801.6,595.7L803.1,603.6L804.5,611.5L805.9,619.4L807.3,627.3L808.6,635.1L809.9,643L811.1,650.9L812.3,658.7L813.5,666.6L814.7,674.5L815.9,682.4L817,690.3L818.1,698.2L819.2,706.1L820.3,714L821.4,722L822.5,729.9L823.6,737.9L824.6,745.9L825.7,753.9"/>
<path d="M728.1,841.4L729.1,833.1L730,824.7L730.9,816.3L731.8,807.9L732.7,799.5L733.6,791.1L734.5,782.7L735.4,774.3L736.4,765.9L737.3,757.4L738.3,749L739.2,740.6L740.2,732.2L741.2,723.7L742.3,715.3L743.3,706.9L744.4,698.5L745.6,690.1L746.8,681.7L748,673.4L749.3,665L750.6,656.7L751.9,648.4L753.4,640.1L754.8,631.8L756.3,623.5L757.9,615.2L759.6,607L761.2,598.7L763,590.4L764.7,582.2L766.6,573.9L768.4,565.6L770.4,557.4L772.4,549.1L774.4,540.7L776.5,532.4L778.7,524.1L781.3,516L784.4,508.1L788.2,500.7L793,493.7L798.8,487.3L805.6,482.1L813,479L820.6,479.3L828,482.7L834.8,488.3L841.2,494.7L847.1,501.1L852.8,507.3L858.3,513.5L863.8,519.8L869.4,526L875.4,532L881.9,537.6L889.2,542.7L897.1,546.8L905.2,548.7L912.9,547.5L919.9,543.5L926.3,537.6L931.8,530.6L936.7,523.3L940.8,515.8L944.4,508.3L947.5,500.7L950.4,492.9L953.1,485.1L955.7,477.2L958.4,469.2L961,461.2L963.7,453.1L966.2,445L968.7,436.9L971,428.7L973.3,420.4L975.5,412.2L977.7,404L979.8,395.7L981.9,387.5L984.1,379.3L986.3,371.1L988.6,362.9L990.9,354.8L993.3,346.6L995.7,338.5L998.2,330.5L1000.6,322.4L1003.1,314.3L1005.6,306.3L1008.1,298.3L1010.6,290.3L1013.1,282.2L1015.6,274.2L1018,266.2L1020.5,258.2L1022.9,250.2L1025.5,242.1L1028.2,234.1L1031.1,226L1034.3,217.9L1037.7,209.8L1041.6,201.7L1046,193.9L1051.1,187.4L1057.1,183.1L1064.3,182.1L1072,184.7L1078.4,190.3L1083.1,197.9L1086.7,206.2L1089.7,214.5L1092.3,222.6L1094.5,230.7L1096.6,238.7L1098.5,246.9L1100.3,255L1102.1,263.2L1103.7,271.5L1105.3,279.8L1106.8,288.1L1108.3,296.5L1109.8,304.8L1111.2,313.2L1112.6,321.6L1113.9,330L1115.3,338.4L1116.7,346.7L1118,355.1L1119.4,363.4L1120.9,371.7L1122.4,379.9"/>
<path d="M1028.1,819.4L1028.8,811.5L1029.4,803.7L1030.2,795.8L1031,787.8L1031.8,779.9L1032.7,772L1033.6,764L1034.6,756L1035.6,748L1036.6,740.1L1037.7,732.1L1038.9,724.1L1040.1,716.2L1041.3,708.2L1042.6,700.3L1043.9,692.3L1045.3,684.4L1046.7,676.5L1048.2,668.7L1049.7,660.8L1051.2,653L1052.8,645.2L1054.4,637.5L1056.1,629.8L1057.8,622.1L1059.6,614.5L1061.5,606.8L1063.4,599.2L1065.5,591.5L1067.7,583.9L1070.1,576.2L1072.7,568.5L1075.4,560.7L1078.3,552.9L1081.4,545L1084.8,537.2L1088.6,529.8L1093.2,523.5L1098.8,518.6L1105.6,515.8L1113.5,515.4L1121.5,517L1128.8,520.3L1135.4,524.8L1141.3,530.2L1146.7,536.1L1151.8,542.1L1156.9,548.1L1162,554.1L1167.3,560L1173.1,565.8L1179.5,571.6L1186.5,576.8L1193.9,580.2L1201.4,580.5L1208.5,577.6L1214.9,572.8L1220.5,567.2L1225.4,560.9L1229.6,554.1L1233.3,547L1236.6,539.6L1239.7,532L1242.5,524.5L1245.2,516.9L1247.7,509.3L1250.1,501.7L1252.4,494L1254.6,486.3L1256.7,478.7L1258.8,471L1260.8,463.3L1262.7,455.5L1264.7,447.8L1266.7,440.1L1268.7,432.4L1270.7,424.6L1272.8,416.9L1275,409.2L1277.2,401.5L1279.5,393.8L1281.8,386.1L1284.1,378.4L1286.4,370.7L1288.8,363L1291.1,355.4L1293.5,347.8L1295.8,340.1L1298.2,332.5L1300.5,324.9L1302.9,317.3L1305.2,309.7L1307.6,302.1L1310,294.5L1312.3,286.8L1314.7,279.1L1317.1,271.4L1319.7,263.8L1322.6,256.3L1326,249L1330,242.1L1334.8,235.5L1340.5,229.3L1347,225.3L1353.9,226.1L1360.3,230.8L1365.4,237.2L1369.4,244.4L1372.7,252L1375.6,259.6L1378.2,267.3L1380.4,275L1382.4,282.7L1384.1,290.5L1385.8,298.2L1387.3,306L1388.7,313.9L1390.2,321.7L1391.6,329.5L1393,337.4L1394.4,345.3L1395.9,353.2L1397.3,361L1398.7,368.9L1400.1,376.8L1401.4,384.7L1402.8,392.6L1404.1,400.5L1405.4,408.4L1406.7,416.3L1407.9,424.2L1409.1,432.1L1410.3,440"/>
<path d="M1318.5,710L1319.2,702.8L1319.9,695.6L1320.6,688.4L1321.3,681.2L1322.1,674L1322.9,666.9L1323.7,659.7L1324.6,652.5L1325.5,645.3L1326.4,638.1L1327.3,630.9L1328.3,623.8L1329.2,616.6L1330.2,609.4L1331.3,602.3L1332.3,595.1L1333.4,588L1334.4,580.8L1335.5,573.7L1336.6,566.5L1337.7,559.4L1338.9,552.2L1340,545.1L1341.2,538L1342.4,530.8L1343.6,523.7L1344.8,516.6L1346.1,509.5L1347.4,502.4L1348.9,495.3L1350.5,488.3L1352.3,481.3L1354.2,474.3L1356.3,467.4L1358.7,460.5L1361.3,453.6L1364.2,446.9L1367.4,440.1L1370.9,433.5L1374.9,427.4L1379.6,422.4L1385.1,419.3L1391.7,418.9L1398.9,421.2L1405.3,425.6L1410.2,431.3L1414.4,437.5L1418.2,443.7L1421.9,449.8L1425.5,456L1429,462.2L1432.5,468.5L1436,474.8L1439.4,481.2L1442.8,487.6L1446,494.1L1449.2,500.6L1452.3,507.2L1455.5,513.7L1458.8,520.1L1462.2,526.4L1466,532.6L1470.2,538.5L1474.8,544.1L1480.4,548.9L1487.2,552.4L1494.4,554L1501.2,553.4L1507.3,550.6L1512.8,546.3L1517.7,540.7L1522.1,534.4L1525.9,527.9L1529.3,521.4L1532.4,514.9L1535.3,508.3L1538,501.7L1540.7,495L1543.2,488.3L1545.7,481.6L1548.1,474.8L1550.5,468L1552.8,461.1L1555.1,454.3L1557.3,447.4L1559.5,440.4L1561.7,433.5L1563.9,426.5L1566.1,419.6L1568.2,412.6L1570.4,405.7L1572.6,398.8L1574.9,391.9L1577.1,385L1579.4,378.2L1581.7,371.5L1584.1,364.8L1586.5,358.1L1589,351.4L1591.5,344.7L1594.1,338L1596.8,331.2L1599.6,324.4L1602.4,317.4L1605.4,310.4L1608.8,303.6L1613.3,297.8L1619.1,293.5L1625.8,291.3L1632.4,292.2L1638.3,295.7L1643.2,300.5L1647.3,306.1L1650.7,312.4L1653.5,319.2L1655.8,326.4L1657.8,333.7L1659.7,341.1L1661.5,348.3L1663.4,355.5L1665.2,362.5L1666.9,369.5L1668.7,376.4L1670.4,383.3L1672,390.1L1673.6,397L1675,403.9L1676.4,410.8L1677.8,417.9L1679,425L1680.1,432.3L1681,439.7L1681.9,447.2"/>
</g>
</g>
<rect x="1235.6" y="1015.6" width="506.4" height="64.3" fill="#fff" stroke="#000" stroke-width="3.3"/>
<path d="M1245.6,1037.6h24.6" stroke="#0084ff" stroke-width="4.6" stroke-linecap="round" fill="none"/>
<path d="M1245.6,1062.5h24.6" stroke="#ff0000" stroke-width="4.6" stroke-linecap="round" fill="none"/>
<text x="1278.0" y="1047.8" font-size="29.5" textLength="454.2" lengthAdjust="spacingAndGlyphs" fill="#0084ff" stroke="#fff" stroke-width="0.7">20070804T101642−ID:00002489</text>
<text x="1277.1" y="1072.9" font-size="29.5" textLength="136.7" lengthAdjust="spacingAndGlyphs" fill="#ff0000" stroke="#fff" stroke-width="0.7">Reference</text>
<text x="1427.2" y="1072.9" font-size="29.5" textLength="99.4" lengthAdjust="spacingAndGlyphs" fill="#ff0000" stroke="#fff" stroke-width="0.7">Pattern</text>
<text x="196.9" y="190.9" font-size="65" textLength="137.6" lengthAdjust="spacingAndGlyphs" stroke="#fff" stroke-width="0.5">81.0</text>
<text x="196.9" y="400.6" font-size="65" textLength="137.9" lengthAdjust="spacingAndGlyphs" stroke="#fff" stroke-width="0.5">80.5</text>
<text x="196.9" y="610.3" font-size="65" textLength="137.6" lengthAdjust="spacingAndGlyphs" stroke="#fff" stroke-width="0.5">80.0</text>
<text x="196.3" y="820" font-size="65" textLength="138.4" lengthAdjust="spacingAndGlyphs" stroke="#fff" stroke-width="0.5">79.5</text>
<text x="196.3" y="1029.7" font-size="65" textLength="138.2" lengthAdjust="spacingAndGlyphs" stroke="#fff" stroke-width="0.5">79.0</text>
<text x="300.9" y="1178.6" font-size="65" textLength="127.0" lengthAdjust="spacingAndGlyphs" stroke="#fff" stroke-width="0.5">−16</text>
<text x="564.5" y="1178.6" font-size="65" textLength="128.5" lengthAdjust="spacingAndGlyphs" stroke="#fff" stroke-width="0.5">−14</text>
<text x="828.4" y="1178.6" font-size="65" textLength="127.5" lengthAdjust="spacingAndGlyphs" stroke="#fff" stroke-width="0.5">−12</text>
<text x="1090.1" y="1178.6" font-size="65" textLength="128.7" lengthAdjust="spacingAndGlyphs" stroke="#fff" stroke-width="0.5">−10</text>
<text x="1374.5" y="1178.6" font-size="65" textLength="88.9" lengthAdjust="spacingAndGlyphs" stroke="#fff" stroke-width="0.5">−8</text>
<text x="1637.4" y="1178.6" font-size="65" textLength="89.7" lengthAdjust="spacingAndGlyphs" stroke="#fff" stroke-width="0.5">−6</text>
<text x="647.2" y="1248.1" font-size="65" textLength="271.4" lengthAdjust="spacingAndGlyphs" stroke="#fff" stroke-width="0.5">Elevation</text>
<text x="951.9" y="1248.1" font-size="65" textLength="120.1" lengthAdjust="spacingAndGlyphs" stroke="#fff" stroke-width="0.5">look</text>
<text x="1105.0" y="1248.1" font-size="65" textLength="161.4" lengthAdjust="spacingAndGlyphs" stroke="#fff" stroke-width="0.5">angle</text>
<text x="1326.9" y="1248.1" font-size="65" textLength="109.7" lengthAdjust="spacingAndGlyphs" stroke="#fff" stroke-width="0.5">deg</text>
<text x="1295.6" y="1249.4" font-size="74.5" textLength="28.5" lengthAdjust="spacingAndGlyphs" stroke="#fff" stroke-width="0.5">[</text>
<text x="1437.9" y="1249.4" font-size="74.5" textLength="28.2" lengthAdjust="spacingAndGlyphs" stroke="#fff" stroke-width="0.5">]</text>
<text transform="translate(145.8 900) rotate(-90)" font-size="65" textLength="224.0" lengthAdjust="spacingAndGlyphs" stroke="#fff" stroke-width="0.5">Gamma</text>
<text transform="translate(145.8 636.3) rotate(-90)" font-size="65" textLength="189.6" lengthAdjust="spacingAndGlyphs" stroke="#fff" stroke-width="0.5">profile</text>
<text transform="translate(145.8 387.8) rotate(-90)" font-size="65" textLength="77.6" lengthAdjust="spacingAndGlyphs" stroke="#fff" stroke-width="0.5">dB</text>
<text transform="translate(145.3 418.5) rotate(-90)" font-size="74.0" textLength="27.5" lengthAdjust="spacingAndGlyphs" stroke="#fff" stroke-width="0.5">[</text>
<text transform="translate(145.3 307.7) rotate(-90)" font-size="74.0" textLength="25.7" lengthAdjust="spacingAndGlyphs" stroke="#fff" stroke-width="0.5">]</text>
<text x="32.7" y="1280.6" font-size="80" textLength="74.7" lengthAdjust="spacingAndGlyphs">a)</text>
<g id="plotB">
<g stroke="#000" stroke-width="2" fill="none">
<path d="M609.63,1415.85V2431.05" stroke-dasharray="4 5"/>
<path d="M881.70,1415.85V2431.05" stroke-dasharray="4 5"/>
<path d="M1153.70,1415.85V2431.05" stroke-dasharray="4 5"/>
<path d="M1425.80,1415.85V2431.05" stroke-dasharray="4 5"/>
<path d="M1697.86,1415.85V2431.05" stroke-dasharray="4 5"/>
<path d="M361,1668.95H1755.15" stroke-dasharray="4 5"/>
<path d="M361,1923.00H1755.15" stroke-dasharray="4 5"/>
<path d="M361,2177.00H1755.15" stroke-dasharray="4 5"/>
<path d="M405.56,1416.85v16M405.56,2431.05v-16M473.57,1416.85v16M473.57,2431.05v-16M541.59,1416.85v16M541.59,2431.05v-16M677.62,1416.85v16M677.62,2431.05v-16M745.63,1416.85v16M745.63,2431.05v-16M813.64,1416.85v16M813.64,2431.05v-16M949.67,1416.85v16M949.67,2431.05v-16M1017.69,1416.85v16M1017.69,2431.05v-16M1085.70,1416.85v16M1085.70,2431.05v-16M1221.74,1416.85v16M1221.74,2431.05v-16M1289.75,1416.85v16M1289.75,2431.05v-16M1357.76,1416.85v16M1357.76,2431.05v-16M1493.80,1416.85v16M1493.80,2431.05v-16M1561.81,1416.85v16M1561.81,2431.05v-16M1629.83,1416.85v16M1629.83,2431.05v-16M355.00,2367.50h22M1760.15,2367.50h-22M355.00,2304.00h22M1760.15,2304.00h-22M355.00,2240.50h22M1760.15,2240.50h-22M355.00,2113.50h22M1760.15,2113.50h-22M355.00,2050.00h22M1760.15,2050.00h-22M355.00,1986.50h22M1760.15,1986.50h-22M355.00,1859.50h22M1760.15,1859.50h-22M355.00,1796.00h22M1760.15,1796.00h-22M355.00,1732.50h22M1760.15,1732.50h-22M355.00,1605.50h22M1760.15,1605.50h-22M355.00,1542.00h22M1760.15,1542.00h-22M355.00,1478.50h22M1760.15,1478.50h-22"/>
</g>
<rect x="355.00" y="1416.85" width="1405.15" height="1014.20" fill="none" stroke="#000" stroke-width="2"/>
<g fill="none" stroke-width="5.7" stroke-linejoin="round" stroke-linecap="round" shape-rendering="crispEdges">
<path stroke="#0084ff" d="M418.7,1737L419.5,1671.7L420.2,1733.5L421,1706.6L421.8,1550L422.5,1678.3L423.3,1643.7L424.1,1688.5L424.8,1702.9L425.6,1762L426.3,1675.5L427.1,1776.1L427.9,1676.7L428.6,1753.4L429.4,1656.5L430.1,1881.6L430.9,1589.1L431.7,1763.4L432.4,1611.6L433.2,1798.5L434,1654.2L434.7,1767.9L435.5,1641.1L436.2,1783.9L437,1647.7L437.8,1833.2L438.5,1614.6L439.3,1801.6L440,1665.7L440.8,1810.1L441.6,1699.7L442.3,1794L443.1,1722L443.9,1811.9L444.6,1722.8L445.4,1826.3L446.1,1729.3L446.9,1874.2L447.7,1737.2L448.4,1857.3L449.2,1757.7L450,1887.5L450.7,1729.6L451.5,1982L452.2,1757.6L453,1936.2L453.8,1752.8L454.5,1914.7L455.3,1705.3L456,1848.7L456.8,1703.5L457.6,1938.1L458.3,1745.5L459.1,1845.3L459.9,1764.9L460.6,1856L461.4,1768.5L462.1,1868L462.9,1726.8L463.7,1967.9L464.4,1608.6L465.2,1862.4L465.9,1789.8L466.7,1885.7L467.5,1717.4L468.2,1888.4L469,1793.3L469.8,1856.1L470.5,1784L471.3,1891.4L472,1725L472.8,1903.9L473.6,1781.8L474.3,1909L475.1,1789.3L475.9,1885.2L476.6,1807L477.4,1945.7L478.1,1800.2L478.9,1978.9L479.7,1818L480.4,1957.9L481.2,1813.8L481.9,1923.5L482.7,1766.3L483.5,1988.9L484.2,1741.8L485,1960.4L485.8,1800.2L486.5,1906.3L487.3,1650.8L488,1969.7L488.8,1808.7L489.6,1915.9L490.3,1829.3L491.1,1937.3L491.8,1811.9L492.6,1963.5L493.4,1852.3L494.1,2026.1L494.9,1854.7L495.7,1929.6L496.4,1851L497.2,1961.5L497.9,1853.1L498.7,1975.9L499.5,1881.5L500.2,1963.8L501,1859L501.8,1978.7L502.5,1770.7L503.3,1981.3L504,1844.4L504.8,1961.4L505.6,1869.4L506.3,1994.8L507.1,1745.1L507.8,2043.7L508.6,1863.3L509.4,1975.5L510.1,1892.3L510.9,1963.7L511.7,1894.3L512.4,2080.3L513.2,1817.4L513.9,1993.6L514.7,1868.1L515.5,2027.8L516.2,1891.6L517,2039.1L517.7,1846.8L518.5,1980.2L519.3,1898.5L520,2023.1L520.8,1900.3L521.6,1999.2L522.3,1886.5L523.1,1999.2L523.8,1935.4L524.6,2023.9L525.4,1845.5L526.1,2047.9L526.9,1876.7L527.7,2016.9L528.4,1886L529.2,2006.8L529.9,1892.5L530.7,2125.4L531.5,1927.6L532.2,2056.8L533,1929.5L533.7,2124.6L534.5,1925.7L535.3,2056.2L536,1925.3L536.8,2033.3L537.6,1869.6L538.3,2041.7L539.1,1919.8L539.8,2048.2L540.6,1961.9L541.4,2084.8L542.1,1964L542.9,2095.5L543.6,1949.2L544.4,2049.5L545.2,1943.1L545.9,2108.4L546.7,1928.7L547.5,2148L548.2,1962.1L549,2116L549.7,1923.5L550.5,2085.3L551.3,1893.7L552,2150.1L552.8,1974.7L553.6,2128.2L554.3,2017.5L555.1,2143.3L555.8,2004.4L556.6,2126.7L557.4,2001.9L558.1,2127.2L558.9,1940.1L559.6,2147.5L560.4,2003.3L561.2,2132.8L561.9,2032.2L562.7,2122.7L563.5,2010.6L564.2,2151.9L565,1963.2L565.7,2202.8L566.5,2013.7L567.3,2117L568,1996.6L568.8,2186.8L569.5,2039.5L570.3,2135.3L571.1,2036.3L571.8,2126.6L572.6,1916L573.4,2180.2L574.1,1970.1L574.9,2118.8L575.6,2016.3L576.4,2210L577.2,2024.4L577.9,2193.5L578.7,2013L579.5,2177L580.2,2011.5L581,2175.7L581.7,1993.2L582.5,2212.8L583.3,1996.3L584,2146.6L584.8,2018.7L585.5,2181.5L586.3,1999.7L587.1,2120.2L587.8,1891.6L588.6,2159.4L589.4,1947.4L590.1,2116.2L590.9,2045.2L591.6,2132.2L592.4,2061.2L593.2,2255L593.9,2018.3L594.7,2145.2L595.4,2062.6L596.2,2176.9L597,2057.7L597.7,2157.1L598.5,2019.3L599.3,2154.1L600,2008.8L600.8,2129.9L601.5,1825.4L602.3,2118.8L603.1,2037.3L603.8,2136.3L604.6,2019.1L605.4,2153.2L606.1,1991L606.9,2161.8L607.6,2006.6L608.4,2140.8L609.2,1985.7L609.9,2132.8L610.7,2009.5L611.4,2184.2L612.2,2034L613,2147.1L613.7,1941.8L614.5,2147.7L615.3,2050.3L616,2149.4L616.8,1979.4L617.5,2191.1L618.3,2054.9L619.1,2128.6L619.8,2040.1L620.6,2197.3L621.3,2055.3L622.1,2156.4L622.9,2035.3L623.6,2172.9L624.4,2060.9L625.2,2171.8L625.9,2019.1L626.7,2126.1L627.4,2037.7L628.2,2146.6L629,1941.8L629.7,2134.8L630.5,2051.6L631.3,2149.6L632,2057.8L632.8,2122.2L633.5,2064.9L634.3,2124.1L635.1,2062.3L635.8,2163.6L636.6,2042.3L637.3,2129.4L638.1,2015.4L638.9,2154.8L639.6,2079.8L640.4,2164.1L641.2,2041.2L641.9,2130.1L642.7,2033.3L643.4,2135.3L644.2,2041L645,2164.2L645.7,2035.1L646.5,2219.4L647.2,2033.7L648,2147.3L648.8,2036.9L649.5,2183.2L650.3,2058.8L651.1,2163.7L651.8,2060.7L652.6,2218.6L653.3,2044.3L654.1,2147.8L654.9,2046.3L655.6,2244.9L656.4,2051.9L657.2,2177.7L657.9,1980.6L658.7,2226.5L659.4,1927.8L660.2,2186.1L661,2003.8L661.7,2167.5L662.5,2019.4L663.2,2215.1L664,2042.4L664.8,2169.3L665.5,2036.3L666.3,2189.3L667.1,2013.8L667.8,2147.7L668.6,2009.1L669.3,2145.7L670.1,2038.4L670.9,2167.4L671.6,2026.6L672.4,2138.2L673.1,2027.1L673.9,2183.1L674.7,2039.3L675.4,2146.3L676.2,2006.9L677,2149.1L677.7,2022.4L678.5,2160L679.2,2019.2L680,2114L680.8,2037.9L681.5,2157.7L682.3,2068.9L683.1,2315.2L683.8,2074.9L684.6,2112L685.3,2020.5L686.1,2136.6L686.9,2017.6L687.6,2130.7L688.4,2006.9L689.1,2153.9L689.9,1891.6L690.7,2144.1L691.4,1996.6L692.2,2299.1L693,2033.3L693.7,2110.3L694.5,2009.1L695.2,2116.5L696,1973L696.8,2138.8L697.5,2000.4L698.3,2131.2L699,2022.9L699.8,2159.8L700.6,1992.9L701.3,2114.2L702.1,1964.7L702.9,2154.5L703.6,1998L704.4,2175.4L705.1,1977.1L705.9,2164L706.7,2001.5L707.4,2119.1L708.2,2011.6L709,2132.2L709.7,2038.7L710.5,2188.7L711.2,1893.7L712,2206.4L712.8,2021.6L713.5,2223.7L714.3,2059.4L715,2228.9L715.8,2051L716.6,2210.4L717.3,2058.7L718.1,2159.8L718.9,2026.6L719.6,2180.8L720.4,2034.1L721.1,2171.7L721.9,2043.9L722.7,2131.3L723.4,2010.4L724.2,2186.7L725,1998.2L725.7,2138.8L726.5,2009.5L727.2,2121.3L728,2025.4L728.8,2143.9L729.5,2039.1L730.3,2157.7L731,2000.3L731.8,2117.7L732.6,2007.2L733.3,2111L734.1,1991.9L734.9,2123.3L735.6,1905.7L736.4,2100.5L737.1,1974L737.9,2147.6L738.7,1980.2L739.4,2118.7L740.2,1980.1L740.9,2140.5L741.7,2019.8L742.5,2202.8L743.2,1991.2L744,2169.1L744.8,2015.7L745.5,2289.1L746.3,2019L747,2166.4L747.8,2030.5L748.6,2152.2L749.3,2021.3L750.1,2183.1L750.9,1976.4L751.6,2146.4L752.4,2024.7L753.1,2174.3L753.9,2030.2L754.7,2182.1L755.4,2012.8L756.2,2181.6L756.9,2025.3L757.7,2150.9L758.5,2024L759.2,2139.2L760,2012.6L760.8,2137.5L761.5,2037L762.3,2175.1L763,1985.8L763.8,2178.7L764.6,2018.2L765.3,2147L766.1,1991.8L766.8,2167.1L767.6,2000.6L768.4,2152.3L769.1,2040.8L769.9,2143.7L770.7,2024.7L771.4,2113L772.2,2010.5L772.9,2119.9L773.7,2009.3L774.5,2194.7L775.2,1995.1L776,2114.6L776.8,1997.8L777.5,2129L778.3,1947.4L779,2094.6L779.8,1993.7L780.6,2088.6L781.3,1989.8L782.1,2145.8L782.8,1939.9L783.6,2190.5L784.4,1991.7L785.1,2122.8L785.9,2023.2L786.7,2125.2L787.4,2026.1L788.2,2112.7L788.9,1966.7L789.7,2143.3L790.5,2024.2L791.2,2152.1L792,2003.9L792.7,2119.1L793.5,2031.2L794.3,2231.7L795,2023L795.8,2170.9L796.6,1996.3L797.3,2112.1L798.1,2035L798.8,2097.8L799.6,2008.3L800.4,2111.1L801.1,2013.6L801.9,2121.7L802.7,2011.4L803.4,2108.8L804.2,2024.1L804.9,2110.5L805.7,2007.2L806.5,2079.9L807.2,2018.3L808,2105L808.7,1946.2L809.5,2090.4L810.3,2006.9L811,2126"/>
<path stroke="#00b8ff" d="M738.6,1585L739.3,1786.5L740.1,1678.3L740.9,1860.2L741.6,1635.5L742.4,1840.8L743.1,1640.9L743.9,1879.1L744.7,1648.5L745.4,1939.8L746.2,1574.5L747,1837.7L747.7,1689.7L748.5,1845.3L749.2,1635.7L750,1826.2L750.8,1642.6L751.5,1780.5L752.3,1655.5L753,1814.3L753.8,1664.6L754.6,1820L755.3,1673.5L756.1,1792.1L756.9,1478.1L757.6,1774.9L758.4,1555.3L759.1,1776.4L759.9,1586.8L760.7,1799L761.4,1682.8L762.2,1779.8L762.9,1645.7L763.7,1830L764.5,1656.5L765.2,1780.2L766,1676.9L766.8,1867L767.5,1621.3L768.3,1791L769,1644.7L769.8,1794.6L770.6,1681.2L771.3,1814.1L772.1,1700.8L772.9,1803.1L773.6,1706.6L774.4,1896.8L775.1,1753.5L775.9,1847.6L776.7,1679.4L777.4,1902.5L778.2,1749L778.9,1896.4L779.7,1711.7L780.5,1909.7L781.2,1676.9L782,1852.4L782.8,1712.8L783.5,1879L784.3,1724L785,1898.1L785.8,1744.8L786.6,1851.8L787.3,1724L788.1,1873.1L788.8,1744.3L789.6,1863.3L790.4,1716.9L791.1,1905.3L791.9,1769.7L792.7,1894.8L793.4,1787.3L794.2,1993.8L794.9,1721.3L795.7,1970.5L796.5,1763.9L797.2,1992L798,1771.7L798.8,1994.1L799.5,1738.8L800.3,2015.9L801,1779.4L801.8,1911L802.6,1742L803.3,1926.9L804.1,1680.9L804.8,1953.8L805.6,1757.8L806.4,2021.8L807.1,1782L807.9,1977.3L808.7,1751.4L809.4,2033.8L810.2,1787.3L810.9,2005.6L811.7,1806L812.5,1975.8L813.2,1790.2L814,2008.4L814.7,1804.3L815.5,2025L816.3,1725L817,1969.2L817.8,1768.2L818.6,2011L819.3,1811.6L820.1,2015.8L820.8,1835.6L821.6,1935.7L822.4,1790.5L823.1,2054.6L823.9,1829.3L824.7,1962.7L825.4,1806.2L826.2,1941.1L826.9,1850.5L827.7,1927.3L828.5,1672.8L829.2,1948.1L830,1718.4L830.7,1993.7L831.5,1834.3L832.3,1936.8L833,1824.7L833.8,2005.8L834.6,1780.7L835.3,1947.5L836.1,1799.4L836.8,2142.5L837.6,1837.8L838.4,2000.1L839.1,1717L839.9,2076.9L840.6,1789.8L841.4,1981.5L842.2,1831.2L842.9,1960.1L843.7,1836.4L844.5,1949.1L845.2,1773L846,1940.3L846.7,1767.3L847.5,1968L848.3,1822.9L849,1980.9L849.8,1832.1L850.6,1945.5L851.3,1819.6L852.1,2013.1L852.8,1761.2L853.6,1966.5L854.4,1875.6L855.1,1960.9L855.9,1854.5L856.6,1935.4L857.4,1851L858.2,2054.2L858.9,1848.4L859.7,1960.8L860.5,1837L861.2,1987.9L862,1852.5L862.7,1951.2L863.5,1871.6L864.3,1981.3L865,1825.8L865.8,1978.9L866.5,1869.3L867.3,1972.1L868.1,1830.7L868.8,1961.9L869.6,1874L870.4,1964.2L871.1,1865.6L871.9,1984.7L872.6,1785.8L873.4,1954.4L874.2,1886.5L874.9,1974L875.7,1749.1L876.5,2068.3L877.2,1855.3L878,1988.6L878.7,1833.8L879.5,1969.5L880.3,1870.5L881,2010.7L881.8,1851.5L882.5,1991L883.3,1880.4L884.1,1959.7L884.8,1889.6L885.6,1990.6L886.4,1877.5L887.1,2068.2L887.9,1707L888.6,1957.1L889.4,1891.2L890.2,1992.5L890.9,1842.4L891.7,1994L892.4,1877.7L893.2,2086.3L894,1871.2L894.7,2010.7L895.5,1859.1L896.3,2043.3L897,1875.2L897.8,1966.7L898.5,1888.7L899.3,2096.6L900.1,1867.6L900.8,2018.3L901.6,1811.3L902.4,1988.1L903.1,1871.3L903.9,2003.9L904.6,1880.1L905.4,1980.7L906.2,1885.1L906.9,2019.7L907.7,1863.5L908.4,2021.4L909.2,1815.9L910,2023.8L910.7,1863.5L911.5,1947.8L912.3,1874.9L913,2060.2L913.8,1847.8L914.5,1963.8L915.3,1855.7L916.1,1994.5L916.8,1799.3L917.6,2001.8L918.3,1870.6L919.1,1963.8L919.9,1796L920.6,1942.4L921.4,1865.9L922.2,1965.6L922.9,1887.5L923.7,1944.3L924.4,1876.2L925.2,1954.7L926,1862.5L926.7,1959.6L927.5,1889.3L928.3,1954.2L929,1869.6L929.8,1959L930.5,1838L931.3,2008L932.1,1862.6L932.8,1981.9L933.6,1851.3L934.3,1967L935.1,1861.3L935.9,1959.1L936.6,1781.2L937.4,2006.9L938.2,1851.4L938.9,1972.9L939.7,1851L940.4,1964.3L941.2,1892.6L942,1997.6L942.7,1887.3L943.5,1968L944.2,1871.4L945,1962.6L945.8,1883.7L946.5,1996.2L947.3,1837.8L948.1,1960.2L948.8,1869.6L949.6,1966.4L950.3,1867.6L951.1,1971.8L951.9,1814.5L952.6,2042.2L953.4,1841.4L954.2,1957.4L954.9,1891.4L955.7,1937.3L956.4,1846.5L957.2,1947.7L958,1830.9L958.7,1938.1L959.5,1835.4L960.2,1928.3L961,1833.7L961.8,1926.1L962.5,1813.1L963.3,1953.2L964.1,1855.8L964.8,1927.9L965.6,1791.9L966.3,1962.6L967.1,1799.7L967.9,1909L968.6,1796.9L969.4,1940.3L970.1,1832.1L970.9,1935.7L971.7,1734.9L972.4,1914.6L973.2,1692.7L974,1936.9L974.7,1699.3L975.5,1933L976.2,1714.7L977,1969.9L977.8,1729L978.5,1971.8L979.3,1756.6L980.1,1909.8L980.8,1780.8L981.6,1938.7L982.3,1723.5L983.1,1904.6L983.9,1718.4L984.6,1923.1L985.4,1688.3L986.1,2007.6L986.9,1721.6L987.7,1942.6L988.4,1765.5L989.2,1971L990,1770.1L990.7,2005.3L991.5,1793.8L992.2,1997.6L993,1802.1L993.8,1921.7L994.5,1810.3L995.3,1934.6L996,1779L996.8,1969.4L997.6,1763.4L998.3,1937.4L999.1,1746.6L999.9,2035.4L1000.6,1626.7L1001.4,1926.4L1002.1,1750.4L1002.9,2036.1L1003.7,1764.7L1004.4,1905.5L1005.2,1693.4L1006,1922.2L1006.7,1824.7L1007.5,1918.3L1008.2,1789.3L1009,1906.6L1009.8,1747.1L1010.5,1927.3L1011.3,1780.3L1012,1947.7L1012.8,1777.4L1013.6,1969.6L1014.3,1779.7L1015.1,1963.9L1015.9,1782.6L1016.6,1913.4L1017.4,1751.9L1018.1,1911.3L1018.9,1805.4L1019.7,1910.7L1020.4,1784.8L1021.2,1929.1L1021.9,1755.3L1022.7,1951L1023.5,1771.6L1024.2,1953.2L1025,1800.7L1025.8,1919.2L1026.5,1791.3L1027.3,2010L1028,1756.9L1028.8,1924.8L1029.6,1809.8L1030.3,1954L1031.1,1725L1031.9,1924.7L1032.6,1803.1L1033.4,1908.2L1034.1,1818.1L1034.9,1967.6L1035.7,1843.7L1036.4,1945.8L1037.2,1788.2L1037.9,1942.4L1038.7,1812.8L1039.5,1955.1L1040.2,1849.7L1041,1898L1041.8,1745.5L1042.5,1953.4L1043.3,1805.7L1044,1932L1044.8,1814.7L1045.6,1909.6L1046.3,1799.2L1047.1,2082.3L1047.8,1802L1048.6,1942.8L1049.4,1791.3L1050.1,1923.6L1050.9,1777.9L1051.7,1918.9L1052.4,1779.6L1053.2,1946.8L1053.9,1802.1L1054.7,1940.4L1055.5,1826.4L1056.2,1902.5L1057,1769.2L1057.8,1937.8L1058.5,1699L1059.3,1951L1060,1751.5L1060.8,1925.4L1061.6,1834.3L1062.3,1899.4L1063.1,1773.3L1063.8,1897.6L1064.6,1840L1065.4,1907.5L1066.1,1794L1066.9,1935.6L1067.7,1842.6L1068.4,1931.5L1069.2,1840.7L1069.9,1905.5L1070.7,1807.9L1071.5,1951.9L1072.2,1822.2L1073,1894.9L1073.7,1836.6L1074.5,1930.9L1075.3,1846.4L1076,1924.1L1076.8,1837.5L1077.6,1959.8L1078.3,1827.1L1079.1,1914.5L1079.8,1820.5L1080.6,1940.6L1081.4,1701L1082.1,1963L1082.9,1840.5L1083.7,1924.4L1084.4,1831.4L1085.2,1909.6L1085.9,1807.4L1086.7,1937.4L1087.5,1845.5L1088.2,1936.2L1089,1854.2L1089.7,1916.8L1090.5,1843.7L1091.3,1923.1L1092,1819.6L1092.8,1910.8L1093.6,1805.3L1094.3,1894.8L1095.1,1834.8L1095.8,1944.4L1096.6,1810L1097.4,1921.1L1098.1,1825.1L1098.9,1909.1L1099.6,1810.2L1100.4,1918.1L1101.2,1823.3L1101.9,1928.4L1102.7,1824L1103.5,1909.6L1104.2,1847.2L1105,1912.9L1105.7,1810.5L1106.5,1935.8L1107.3,1818.7L1108,1922.9L1108.8,1824.5L1109.6,1925.1L1110.3,1795L1111.1,1912.9L1111.8,1816.6L1112.6,1919.7L1113.4,1833.3L1114.1,1927.1L1114.9,1799.3L1115.6,1980.9L1116.4,1847L1117.2,1944.1"/>
<path stroke="#00f4ff" d="M1048.9,1979.1L1049.7,2082.3L1050.4,1977.1L1051.2,2086.4L1051.9,1952.5L1052.7,2069.6L1053.5,1947.9L1054.2,2051.6L1055,2007.5L1055.7,2063.6L1056.5,1944.5L1057.3,2094.3L1058,1992L1058.8,2079.5L1059.6,1980L1060.3,2134.5L1061.1,1969.6L1061.8,2078.2L1062.6,1987.5L1063.4,2046.6L1064.1,1992.2L1064.9,2052.3L1065.6,1996.8L1066.4,2073.5L1067.2,1990L1067.9,2087.1L1068.7,1974.3L1069.5,2084.2L1070.2,1981.6L1071,2061.1L1071.7,1904.2L1072.5,2052.4L1073.3,1990.3L1074,2061.8L1074.8,1998L1075.6,2060.5L1076.3,1983.5L1077.1,2168.6L1077.8,1997.5L1078.6,2059L1079.4,1978.8L1080.1,2056.8L1080.9,1963.5L1081.6,2065L1082.4,1914.1L1083.2,2079L1083.9,1970.9L1084.7,2101L1085.5,1982.3L1086.2,2052.8L1087,1996.1L1087.7,2081.4L1088.5,1968.2L1089.3,2093.7L1090,1970.3L1090.8,2072.8L1091.5,1992.4L1092.3,2113.9L1093.1,1975.1L1093.8,2063.9L1094.6,1982.3L1095.4,2187.5L1096.1,1986.7L1096.9,2154.6L1097.6,1974.5L1098.4,2112.6L1099.2,1979.1L1099.9,2166.6L1100.7,1923.7L1101.5,2120L1102.2,1963.7L1103,2106.6L1103.7,1993.5L1104.5,2072.2L1105.3,1982.9L1106,2144.5L1106.8,1990.9L1107.5,2082.9L1108.3,1914.7L1109.1,2129.9L1109.8,1931.4L1110.6,2088.8L1111.4,1951.1L1112.1,2092.7L1112.9,1913.3L1113.6,2114.1L1114.4,1875.3L1115.2,2077.5L1115.9,1954.6L1116.7,2144.5L1117.4,1925.8L1118.2,2088.2L1119,1914.9L1119.7,2070.4L1120.5,1987.8L1121.3,2091.7L1122,1967.6L1122.8,2062.3L1123.5,1997L1124.3,2160.7L1125.1,1837.4L1125.8,2189.4L1126.6,2002.3L1127.4,2125.7L1128.1,1986.9L1128.9,2138.5L1129.6,2004.2L1130.4,2065.3L1131.2,1965.2L1131.9,2108.1L1132.7,2006.8L1133.4,2097.5L1134.2,1996.9L1135,2106.9L1135.7,1954.6L1136.5,2114.7L1137.3,1943.7L1138,2076.9L1138.8,1885.6L1139.5,2092.6L1140.3,1984.1L1141.1,2074.5L1141.8,1974L1142.6,2094.5L1143.3,1950L1144.1,2103.6L1144.9,2002.6L1145.6,2069.2L1146.4,1991.2L1147.2,2068.3L1147.9,2019.1L1148.7,2156.5L1149.4,1999.2L1150.2,2124.4L1151,2028.6L1151.7,2098.4L1152.5,2023.7L1153.3,2132.5L1154,1991.2L1154.8,2103.4L1155.5,2002.7L1156.3,2134.5L1157.1,2005.7L1157.8,2131.4L1158.6,1995.1L1159.3,2124.8L1160.1,2005.1L1160.9,2103.8L1161.6,2024L1162.4,2130.1L1163.2,2018.5L1163.9,2117.8L1164.7,2015.4L1165.4,2096.9L1166.2,2009.1L1167,2089.9L1167.7,1926.9L1168.5,2103.3L1169.2,2013.3L1170,2083.6L1170.8,2016.2L1171.5,2086L1172.3,1987.8L1173.1,2178.7L1173.8,2029.8L1174.6,2089.6L1175.3,2002.6L1176.1,2106.4L1176.9,1975.9L1177.6,2113.7L1178.4,1994.3L1179.2,2090.3L1179.9,2006.3L1180.7,2157.7L1181.4,1875.6L1182.2,2127.9L1183,1993.8L1183.7,2119.7L1184.5,2043.5L1185.2,2162.3L1186,2007.2L1186.8,2123.4L1187.5,2051.7L1188.3,2135.7L1189.1,2010.3L1189.8,2135.2L1190.6,2010.6L1191.3,2236.7L1192.1,2033L1192.9,2170.6L1193.6,2024.4L1194.4,2159.6L1195.1,2036.2L1195.9,2128.2L1196.7,2023.5L1197.4,2180.4L1198.2,2027.1L1199,2136.6L1199.7,1869.5L1200.5,2220L1201.2,2051.5L1202,2147.9L1202.8,2060L1203.5,2171.8L1204.3,1974.9L1205.1,2252.9L1205.8,2058.1L1206.6,2180.7L1207.3,2050.6L1208.1,2175.2L1208.9,2064L1209.6,2213L1210.4,2038.9L1211.1,2155.1L1211.9,2069L1212.7,2177.8L1213.4,2038.2L1214.2,2153.8L1215,2016.9L1215.7,2169.7L1216.5,2021.3L1217.2,2139.4L1218,2064.7L1218.8,2200.7L1219.5,1851.5L1220.3,2213.6L1221.1,2033.5L1221.8,2190.4L1222.6,1998.9L1223.3,2179.2L1224.1,2060.6L1224.9,2134.8L1225.6,2059.3L1226.4,2176.3L1227.1,2021.7L1227.9,2147.2L1228.7,2048.7L1229.4,2175.1L1230.2,2027.8L1231,2145.9L1231.7,1994.9L1232.5,2186.7L1233.2,1997.7L1234,2127L1234.8,1879.6L1235.5,2141L1236.3,1994.8L1237,2115.1L1237.8,2006.2L1238.6,2157.3L1239.3,2001.2L1240.1,2175.9L1240.9,2041.5L1241.6,2140L1242.4,2025.3L1243.1,2135.7L1243.9,1955.2L1244.7,2123.9L1245.4,2021.4L1246.2,2179.4L1247,2045.4L1247.7,2160.7L1248.5,2035.4L1249.2,2129.7L1250,2020.3L1250.8,2141.3L1251.5,2075L1252.3,2169.6L1253,2076.3L1253.8,2150L1254.6,2007.1L1255.3,2119.3L1256.1,2072.3L1256.9,2130.2L1257.6,2037.5L1258.4,2150L1259.1,2029L1259.9,2204.8L1260.7,2009.8L1261.4,2133L1262.2,2025.4L1262.9,2143.6L1263.7,2005.6L1264.5,2111.4L1265.2,2031.1L1266,2164.3L1266.8,2027.7L1267.5,2182.8L1268.3,1989.4L1269,2128.9L1269.8,1994.3L1270.6,2137.5L1271.3,1905.7L1272.1,2119.7L1272.9,1968.5L1273.6,2138.5L1274.4,2000.3L1275.1,2173.1L1275.9,2022.1L1276.7,2125.2L1277.4,2005.3L1278.2,2130.5L1278.9,2012.5L1279.7,2135.9L1280.5,2040.3L1281.2,2188.7L1282,1997.1L1282.8,2176.2L1283.5,1863.5L1284.3,2135.9L1285,2000.9L1285.8,2189.8L1286.6,1953.7L1287.3,2193.3L1288.1,2021.1L1288.8,2146.3L1289.6,1958.6L1290.4,2169.7L1291.1,2032.4L1291.9,2152.1L1292.7,1961.7L1293.4,2146L1294.2,1990.4L1294.9,2242.9L1295.7,1997.2L1296.5,2111L1297.2,1949.2L1298,2154.9L1298.8,1993.5L1299.5,2157.8L1300.3,2035.6L1301,2123.9L1301.8,2008.9L1302.6,2188.4L1303.3,1951.8L1304.1,2163.7L1304.8,1982.6L1305.6,2297.1L1306.4,2022.2L1307.1,2198.3L1307.9,2045.9L1308.7,2151.4L1309.4,2007.6L1310.2,2162.1L1310.9,2029.2L1311.7,2186.4L1312.5,1990.5L1313.2,2223.3L1314,2036.7L1314.7,2168L1315.5,2048L1316.3,2148.9L1317,2058.2L1317.8,2211.5L1318.6,2055.4L1319.3,2137.5L1320.1,1975.9L1320.8,2171.1L1321.6,2015.7L1322.4,2208.1L1323.1,2046.4L1323.9,2155.8L1324.7,2030.8L1325.4,2152.9L1326.2,2042.9L1326.9,2146.2L1327.7,2018.3L1328.5,2156.2L1329.2,2042.9L1330,2236.9L1330.7,2036.2L1331.5,2173.8L1332.3,2032.4L1333,2152.6L1333.8,2042.6L1334.6,2145.6L1335.3,2061.7L1336.1,2152.5L1336.8,2028.9L1337.6,2231.2L1338.4,2028.8L1339.1,2185.9L1339.9,1925.8L1340.6,2193.4L1341.4,2032.7L1342.2,2180.1L1342.9,2064.9L1343.7,2222.8L1344.5,2049L1345.2,2178.2L1346,2046.7L1346.7,2173.7L1347.5,2065.1L1348.3,2171.4L1349,2011.5L1349.8,2164.3L1350.6,2002.9L1351.3,2198.1L1352.1,2025.7L1352.8,2246.7L1353.6,2091.8L1354.4,2161L1355.1,2086.6L1355.9,2200.7L1356.6,2047.9L1357.4,2258.9L1358.2,2059.4L1358.9,2214.1L1359.7,2040.5L1360.5,2196L1361.2,2050.8L1362,2185.7L1362.7,2028.9L1363.5,2224.6L1364.3,2045.1L1365,2238.3L1365.8,2025.7L1366.5,2192.8L1367.3,2084.1L1368.1,2242.8L1368.8,2045.1L1369.6,2273L1370.4,1967L1371.1,2228.8L1371.9,2055.5L1372.6,2209.7L1373.4,2086.5L1374.2,2270.3L1374.9,2040L1375.7,2266.3L1376.5,2074.8L1377.2,2207.5L1378,2040.3L1378.7,2222.7L1379.5,2066.5L1380.3,2184L1381,2042.3L1381.8,2238.9L1382.5,2104.8L1383.3,2184.3L1384.1,2092.2L1384.8,2200.4L1385.6,2084.6L1386.4,2186.6L1387.1,2073.9L1387.9,2251.6L1388.6,2103.4L1389.4,2255.2L1390.2,2067.1L1390.9,2217.5L1391.7,2113.5L1392.4,2188.3L1393.2,2068.1L1394,2258.4L1394.7,2103.9L1395.5,2232.8L1396.3,2064.9L1397,2194.2L1397.8,2010.4L1398.5,2191L1399.3,2092.3L1400.1,2230.9L1400.8,2094.8L1401.6,2188.7L1402.4,2086.4L1403.1,2177.3L1403.9,2087.7L1404.6,2146.8L1405.4,2109.4L1406.2,2182.3L1406.9,2066L1407.7,2168.7L1408.4,2082.3L1409.2,2152.3L1410,2052.8L1410.7,2165.1L1411.5,2069.4L1412.3,2162.6L1413,2102.1L1413.8,2147L1414.5,2100.5L1415.3,2134.9"/>
<path stroke="#00ffc8" d="M1347.2,1802.2L1347.9,1971.6L1348.7,1864.3L1349.4,1962.7L1350.2,1771.2L1351,1933.3L1351.7,1842.2L1352.5,1936.3L1353.3,1862.4L1354,1970.4L1354.8,1888.1L1355.5,1966.1L1356.3,1897.7L1357.1,2150.6L1357.8,1904.4L1358.6,2009.3L1359.3,1899L1360.1,1991.5L1360.9,1914.9L1361.6,2024.6L1362.4,1802.4L1363.2,1974.6L1363.9,1917.8L1364.7,2016.1L1365.4,1880.6L1366.2,2007.1L1367,1911.7L1367.7,1986.6L1368.5,1914.1L1369.2,2014L1370,1922.3L1370.8,2009.4L1371.5,1895.7L1372.3,1996.8L1373.1,1871.7L1373.8,2004.2L1374.6,1877.8L1375.3,2023.4L1376.1,1875.7L1376.9,2028.8L1377.6,1855.4L1378.4,2048.6L1379.2,1758.8L1379.9,2047.2L1380.7,1863.4L1381.4,2004.9L1382.2,1867L1383,1996.6L1383.7,1836.5L1384.5,2004.7L1385.2,1800L1386,1957.9L1386.8,1839.3L1387.5,2018.7L1388.3,1716.2L1389.1,1963.3L1389.8,1849.6L1390.6,1995.2L1391.3,1809.3L1392.1,2018.2L1392.9,1769.5L1393.6,2039.5L1394.4,1867.4L1395.1,2034.2L1395.9,1871.5L1396.7,2030.5L1397.4,1767.2L1398.2,2071.1L1399,1855L1399.7,2045.1L1400.5,1849.4L1401.2,1972.3L1402,1852.6L1402.8,2044.6L1403.5,1891.8L1404.3,2045L1405.1,1899.9L1405.8,1989L1406.6,1800.8L1407.3,2014.5L1408.1,1899.8L1408.9,1997.2L1409.6,1872.3L1410.4,1989.1L1411.1,1903.2L1411.9,2056.5L1412.7,1868.6L1413.4,2002L1414.2,1881.9L1415,2041.1L1415.7,1846L1416.5,2015.5L1417.2,1917.7L1418,2039.9L1418.8,1714.2L1419.5,2078.1L1420.3,1917.9L1421,2092.7L1421.8,1902.4L1422.6,2118.4L1423.3,1944.7L1424.1,2032.9L1424.9,1881L1425.6,2110.3L1426.4,1947.1L1427.1,2091.6L1427.9,1862.2L1428.7,2093.6L1429.4,1860.5L1430.2,2046L1431,1915.9L1431.7,2029L1432.5,1929.1L1433.2,2078.9L1434,1856.1L1434.8,2068.8L1435.5,1864.8L1436.3,2042.3L1437,1840L1437.8,2012.9L1438.6,1925.8L1439.3,2059.8L1440.1,1874.9L1440.9,2024.7L1441.6,1851.2L1442.4,2042.3L1443.1,1899.4L1443.9,2019.2L1444.7,1893.2L1445.4,2128.5L1446.2,1878.3L1447,2043.8L1447.7,1887.1L1448.5,2065.7L1449.2,1882.4L1450,2030.5L1450.8,1884.4L1451.5,2001.2L1452.3,1925.7L1453,1994.7L1453.8,1893.3L1454.6,1997.7L1455.3,1902.2L1456.1,2001.2L1456.9,1920.9L1457.6,2204.8L1458.4,1931.8L1459.1,2006.1L1459.9,1910L1460.7,2024.9L1461.4,1735.9L1462.2,1987.7L1462.9,1921.3L1463.7,2051.7L1464.5,1875.7L1465.2,2042.2L1466,1882.4L1466.8,2000.4L1467.5,1803.7L1468.3,2065.4L1469,1845.7L1469.8,2058.7L1470.6,1865.1L1471.3,2098.4L1472.1,1777.2L1472.9,2064.5L1473.6,1812.4L1474.4,2004.2L1475.1,1797.2L1475.9,2070.7L1476.7,1850.7L1477.4,1998.8L1478.2,1839.4L1478.9,1957.1L1479.7,1751.3L1480.5,1983.4L1481.2,1748.4L1482,2012L1482.8,1787.6L1483.5,1970.9L1484.3,1782.9L1485,1983L1485.8,1818.3L1486.6,2006.3L1487.3,1741.1L1488.1,2001.6L1488.8,1807.9L1489.6,1977.1L1490.4,1730.1L1491.1,1975L1491.9,1823.3L1492.7,2003.8L1493.4,1767.2L1494.2,1986.8L1494.9,1794.6L1495.7,2040.3L1496.5,1815.5L1497.2,2007.4L1498,1814.5L1498.8,2004.8L1499.5,1782.4L1500.3,2046.3L1501,1843.6L1501.8,2022.4L1502.6,1781.1L1503.3,2076.3L1504.1,1837.4L1504.8,1969.8L1505.6,1841.7L1506.4,2039.9L1507.1,1826L1507.9,1943.7L1508.7,1830.1L1509.4,2029.8L1510.2,1817.8L1510.9,2065.4L1511.7,1836.9L1512.5,2018.8L1513.2,1798.7L1514,1937.5L1514.7,1791.7L1515.5,2065.1L1516.3,1762.3L1517,1982.1L1517.8,1713L1518.6,1974.1L1519.3,1743.2L1520.1,1976.9L1520.8,1725.1L1521.6,1966.6L1522.4,1710.6L1523.1,1941.3L1523.9,1719.3L1524.7,1962.1L1525.4,1736.5L1526.2,1919.1L1526.9,1806L1527.7,1911.5L1528.5,1680.9L1529.2,1946.4L1530,1716.9L1530.7,1906.6L1531.5,1732.8L1532.3,1962L1533,1716.2L1533.8,1954.9L1534.6,1755.5L1535.3,1912.7L1536.1,1802L1536.8,1972.9L1537.6,1774.9L1538.4,2012.8L1539.1,1820.7L1539.9,2132.5L1540.6,1717.4L1541.4,1929L1542.2,1719.8L1542.9,1998L1543.7,1736.7L1544.5,1923.6L1545.2,1807.2L1546,1954.1L1546.7,1670.8L1547.5,1937.4L1548.3,1802.1L1549,1934.9L1549.8,1700L1550.6,1982.4L1551.3,1800.2L1552.1,1997.7L1552.8,1816.9L1553.6,1942.7L1554.4,1826.5L1555.1,1980.7L1555.9,1808.1L1556.6,1982.1L1557.4,1795.5L1558.2,1935.1L1558.9,1743.9L1559.7,1917.9L1560.5,1714.5L1561.2,2098.4L1562,1814.5L1562.7,1948.9L1563.5,1848.2L1564.3,1944.3L1565,1823.2L1565.8,1920.9L1566.5,1822.7L1567.3,1968.1L1568.1,1817.2L1568.8,1973.3L1569.6,1772.9L1570.4,1971L1571.1,1806L1571.9,1966L1572.6,1863.7L1573.4,1962.4L1574.2,1806.8L1574.9,1970L1575.7,1769.8L1576.5,1984.6L1577.2,1861.1L1578,1952.1L1578.7,1849L1579.5,1963.3L1580.3,1801.7L1581,1984.4L1581.8,1782.7L1582.5,1948.1L1583.3,1788.7L1584.1,1943.4L1584.8,1849.8L1585.6,1940.6L1586.4,1840.1L1587.1,1935.8L1587.9,1848.3L1588.6,1933.6L1589.4,1737.1L1590.2,1951.3L1590.9,1810.4L1591.7,2097.6L1592.4,1791.3L1593.2,1931.2L1594,1807.9L1594.7,1955.2L1595.5,1784.2L1596.3,2046.9L1597,1818.1L1597.8,1917.6L1598.5,1829.9L1599.3,1966L1600.1,1816.2L1600.8,1939.5L1601.6,1844.5L1602.4,1952.3L1603.1,1862.9L1603.9,1941.3L1604.6,1817L1605.4,2036.4L1606.2,1829.5L1606.9,1965.5L1607.7,1860.2L1608.4,1985.4L1609.2,1873.9L1610,2014.1L1610.7,1849.4L1611.5,1987.1L1612.3,1833.7L1613,1959.3L1613.8,1864.5L1614.5,1996.4L1615.3,1839.1L1616.1,1995.2L1616.8,1826.2L1617.6,2027.2L1618.3,1871.5L1619.1,2082.3L1619.9,1853.7L1620.6,2031.8L1621.4,1864.1L1622.2,2052.4L1622.9,1851L1623.7,1980.3L1624.4,1802.3L1625.2,1980.9L1626,1849.8L1626.7,1949.7L1627.5,1797.4L1628.3,1910.2L1629,1779.2L1629.8,1911.3L1630.5,1829.9L1631.3,1970.3L1632.1,1820.9L1632.8,1981.9L1633.6,1644.7L1634.3,1914.2L1635.1,1711.2L1635.9,2093.6L1636.6,1778L1637.4,1949.6L1638.2,1815.5L1638.9,1997.9L1639.7,1800.8L1640.4,1971.3L1641.2,1787.4L1642,1975.7L1642.7,1726L1643.5,1927.3L1644.2,1804L1645,1933.3L1645.8,1801.6L1646.5,2018.4L1647.3,1786.1L1648.1,1955.6L1648.8,1773.7L1649.6,1988.8L1650.3,1773.7L1651.1,1945.3L1651.9,1801.1L1652.6,1982.8L1653.4,1767.1L1654.2,1968.8L1654.9,1684.1L1655.7,1974.5L1656.4,1836.4L1657.2,1989.2L1658,1849.1L1658.7,1962.1L1659.5,1798.2L1660.2,1976L1661,1807.9L1661.8,1914.4L1662.5,1851.7L1663.3,1906.6L1664.1,1792.7L1664.8,1923.3L1665.6,1805L1666.3,2095.2L1667.1,1813.2L1667.9,1957.3L1668.6,1806.4L1669.4,1941L1670.1,1745.6L1670.9,2013.3L1671.7,1774.3L1672.4,1952.4L1673.2,1765.6L1674,1954.2L1674.7,1746.9L1675.5,1986.5L1676.2,1734.6L1677,2041.1L1677.8,1691.8L1678.5,2020.4L1679.3,1797L1680.1,2025L1680.8,1728.8L1681.6,1983.2L1682.3,1678.9L1683.1,2012.1L1683.9,1784.3L1684.6,2008.6L1685.4,1796.9L1686.1,1912.8L1686.9,1732.4L1687.7,1966.1L1688.4,1694.2L1689.2,1904.9L1690,1680.3L1690.7,1921.5L1691.5,1725L1692.2,1933.7L1693,1783.9L1693.8,1911.1L1694.5,1742.3L1695.3,1947.8L1696,1761.2L1696.8,1914.5"/>
</g>
<g fill="none" stroke-width="12.4" stroke-linejoin="round" stroke-linecap="round" shape-rendering="crispEdges">
<path stroke="#4800c0" d="M417.2,1741.4L420.4,1733.1L425.5,1724.5L431.3,1719.1L436.8,1719L441.4,1723.5L445.2,1729.9L448.5,1736.5L451.3,1743.2L453.7,1750L456,1756.9L458.2,1763.8L460.4,1770.7L462.5,1777.6L464.6,1784.4L466.6,1791.3L468.6,1798.2L470.6,1805.2L472.5,1812.1L474.5,1819L476.4,1825.9L478.3,1832.8L480.2,1839.7L482,1846.6L483.9,1853.6L485.8,1860.5L487.7,1867.4L489.5,1874.3L491.4,1881.2L493.3,1888.2L495.2,1895.1L497.2,1902L499.2,1908.9L501.1,1915.8L503.2,1922.7L505.2,1929.5L507.3,1936.4L509.5,1943.3L511.8,1950.1L514.3,1956.8L516.9,1963.5L519.7,1970.1L522.7,1976.7L525.9,1983.1L529.4,1989.4L533.3,1995.6L537.4,2001.5L542,2007.1L546.9,2012.3L552.2,2017L558,2021.1L564.1,2024.5L570.6,2027.6L577.3,2030.5L583.9,2033.4L590.5,2036.5L596.8,2040L602.8,2044.1L608.4,2048.6L613.8,2053.4L619.1,2058.3L624.1,2063.2L629.1,2068.3L634.1,2073.3L639.1,2078.4L644.1,2083.5L649.3,2088.6L654.7,2093.6L660.3,2098.2L666.2,2102.4L672.4,2106L679,2108.8L686,2110.6L693.1,2111.2L700,2110.3L706.5,2107.8L712.4,2103.5L717.8,2098.1L722.7,2092.4L727.2,2086.5L731.3,2080.7L735.1,2074.8L738.6,2068.9L742,2062.9L745.3,2056.7L748.6,2050.4L751.9,2044L755.3,2037.4L759,2030.8L762.9,2024.3L767.2,2018.2L771.8,2012.6L777,2007.8L782.7,2003.9L788.9,2001.4L795.2,2001.4L801.1,2005L806.2,2012.5"/>
<path stroke="#2a00e6" d="M738.8,1760.8L739.3,1764.4L740.8,1752.1L743.3,1743.9L746.6,1735.4L750.4,1727.7L754.5,1722.1L758.8,1719.5L762.9,1720.8L766.9,1725.1L770.3,1730.8L773.2,1736.5L775.6,1742.2L777.7,1748L779.5,1753.7L781.3,1759.5L783,1765.3L784.7,1771L786.3,1776.8L788,1782.6L789.7,1788.4L791.4,1794.3L793,1800.1L794.7,1806L796.4,1811.8L798.1,1817.7L799.7,1823.7L801.4,1829.6L803,1835.6L804.6,1841.6L806.2,1847.6L807.7,1853.7L809.3,1859.7L810.9,1865.7L812.6,1871.6L814.4,1877.5L816.4,1883.3L818.5,1889L820.7,1894.6L823.2,1900.1L825.9,1905.4L828.9,1910.5L832.3,1915.4L836,1920.1L840.3,1924.6L845.2,1928.8L850.5,1932.1L856.2,1934L862.1,1933.7L867.8,1931.6L873.3,1928.1L878.4,1924.1L882.9,1919.8L887,1915.2L890.8,1910.6L894.4,1905.7L897.9,1900.7L901.3,1895.6L904.7,1890.4L908.3,1885.3L911.9,1880.3L915.8,1875.4L919.8,1870.9L924.2,1866.6L928.9,1862.8L934.1,1859.5L939.6,1856.8L945.4,1854.8L951.2,1853.8L957,1854L962.8,1855.2L968.4,1857.2L973.9,1860L979.2,1863.3L984.3,1867.1L989.2,1871.2L993.9,1875.4L998.5,1879.6L1003.1,1883.6L1008,1887.3L1013.1,1890.6L1018.6,1893.3L1024.3,1895.4L1030.2,1896.9L1036.2,1897.5L1042.2,1897.4L1048.2,1896.4L1054.1,1894.6L1059.8,1892.3L1065.4,1889.6L1070.7,1886.5L1075.9,1883.2L1081,1879.8L1086.1,1876.4L1091.2,1873.1L1096.5,1870L1101.9,1867.3L1107.4,1864.9"/>
<path stroke="#0a14f0" d="M1049.6,2058.3L1050.3,2052.5L1051.2,2046.8L1052.1,2041.1L1053.1,2035.5L1054.2,2030L1055.3,2024.5L1056.4,2019L1057.6,2013.4L1058.9,2007.8L1060.1,2002.2L1061.4,1996.4L1062.7,1990.5L1064.2,1984.6L1066,1978.8L1068.5,1973.4L1071.7,1968.4L1076,1964.2L1080.7,1962L1085.1,1963L1089.1,1966.5L1092.7,1971.3L1095.9,1976.4L1098.9,1981.6L1101.6,1987L1104.2,1992.4L1106.6,1997.8L1108.9,2003L1111.2,2008.2L1113.6,2013.2L1116,2018.3L1118.6,2023.4L1121.4,2028.5L1124.4,2033.6L1127.6,2038.7L1131.1,2043.6L1134.9,2048.2L1138.9,2052.4L1143.2,2056.2L1147.8,2059.5L1152.7,2062.1L1157.9,2064L1163.3,2064.7L1168.8,2064L1174.3,2062.1L1179.6,2059.3L1184.7,2055.9L1189.5,2052.2L1194.2,2048.2L1198.9,2044.3L1203.5,2040.6L1208.2,2037.3L1213,2034.6L1218,2032.7L1223.3,2031.8L1229,2032L1234.8,2033.5L1240.3,2035.9L1245.2,2039.1L1249.5,2043L1253.4,2047.3L1257,2051.9L1260.4,2056.5L1263.8,2061.3L1267.1,2066L1270.4,2070.8L1273.7,2075.5L1277.1,2080.2L1280.5,2084.8L1284.2,2089.3L1288,2093.7L1292.1,2097.9L1296.4,2101.9L1301,2105.5L1305.8,2108.6L1310.9,2110.9L1316.3,2112.5L1322,2113L1327.8,2112.5L1333.4,2110.7L1338.4,2107.6L1342.9,2103.6L1347,2099.1L1350.8,2094.6L1354.3,2090.1L1357.7,2085.7L1361.1,2081.3L1364.5,2076.8L1368.1,2072L1371.8,2067.3L1375.9,2062.8L1380.4,2058.8L1385.3,2055.6L1390.6,2053.5L1396,2052.8L1401.2,2053.7L1406.1,2056.6L1410.4,2061.2"/>
<path stroke="#0038ff" d="M1350.6,1935.7L1354.1,1933.4L1357.7,1931.8L1361.2,1930.9L1364.8,1930.5L1368.3,1930.7L1371.9,1931.4L1375.5,1932.4L1379.2,1933.7L1382.8,1935.3L1386.4,1937L1390.1,1938.9L1393.8,1940.7L1397.4,1942.6L1401.1,1944.5L1404.8,1946.2L1408.5,1947.8L1412.2,1949.2L1415.9,1950.4L1419.6,1951.4L1423.3,1952L1427,1952.2L1430.7,1952.1L1434.4,1951.6L1438,1950.7L1441.6,1949.5L1445.2,1948.1L1448.7,1946.3L1452.1,1944.3L1455.4,1942.2L1458.6,1939.8L1461.7,1937.2L1464.7,1934.5L1467.5,1931.7L1470.3,1928.9L1472.9,1925.9L1475.5,1923L1478.2,1920L1480.8,1917L1483.6,1914.1L1486.4,1911.3L1489.4,1908.6L1492.5,1905.9L1495.6,1903.4L1498.9,1901.1L1502.2,1899L1505.7,1897L1509.2,1895.3L1512.7,1893.8L1516.3,1892.5L1520,1891.6L1523.7,1890.9L1527.5,1890.6L1531.3,1890.5L1535.1,1890.7L1538.9,1891.2L1542.8,1891.8L1546.6,1892.5L1550.5,1893.4L1554.4,1894.3L1558.3,1895.2L1562.2,1896.1L1566.1,1897L1570,1897.7L1573.9,1898.4L1577.8,1898.8L1581.6,1899L1585.4,1899L1589.2,1898.7L1593,1898.1L1596.8,1897.3L1600.5,1896.2L1604.1,1894.9L1607.8,1893.5L1611.3,1891.8L1614.8,1890L1618.3,1888.1L1621.7,1886L1625,1883.9L1628.3,1881.7L1631.5,1879.4L1634.7,1877.1L1637.9,1874.7L1641,1872.4L1644.2,1870.1L1647.4,1867.8L1650.6,1865.6L1653.8,1863.5L1657.1,1861.5L1660.5,1859.6L1664,1857.9L1667.6,1856.3L1671.3,1854.9L1675.1,1853.7L1679,1852.7L1682.9,1852L1686.8,1851.5L1690.8,1851.3"/>
</g>
</g>
<rect x="1235.6" y="2375.4" width="506.4" height="37.2" fill="#fff" stroke="#000" stroke-width="3.3"/>
<path d="M1245.6,2396.6h24.6" stroke="#0084ff" stroke-width="4.6" stroke-linecap="round" fill="none"/>
<text x="1278.0" y="2407.1" font-size="29.5" textLength="454.2" lengthAdjust="spacingAndGlyphs" fill="#0084ff" stroke="#fff" stroke-width="0.7">20070804T101642−ID:00002489</text>
<rect x="990" y="1472" width="300" height="141.5" fill="#fff"/>
<g stroke="#c0504d" stroke-width="6" stroke-dasharray="20 13.1" fill="none" shape-rendering="crispEdges">
<path d="M337,1668H1747"/>
<path d="M341,2175H1745"/>
</g>
<g fill="#000" stroke="none">
<path d="M913.7,1505.9h6.4v117.4h17l-20.2,39.5l-20.2,-39.5h17z"/>
<path d="M913.7,2330.5h6.4v-105h17l-20.2,-39.5l-20.2,39.5h17z"/>
</g>
<text x="996.2" y="1571.8" font-size="73" textLength="39.0" lengthAdjust="spacingAndGlyphs" font-weight="bold">û</text>
<text x="1050.4" y="1571.8" font-size="73" textLength="188.8" lengthAdjust="spacingAndGlyphs">0.2dB</text>
<text x="237.1" y="1456.1" font-size="65" textLength="96.8" lengthAdjust="spacingAndGlyphs" stroke="#fff" stroke-width="0.5">0.4</text>
<text x="237.1" y="1692.6" font-size="65" textLength="98.3" lengthAdjust="spacingAndGlyphs" stroke="#fff" stroke-width="0.5">0.2</text>
<text x="237.1" y="1946.6" font-size="65" textLength="97.5" lengthAdjust="spacingAndGlyphs" stroke="#fff" stroke-width="0.5">0.0</text>
<text x="186.1" y="2200.6" font-size="65" textLength="149.5" lengthAdjust="spacingAndGlyphs" stroke="#fff" stroke-width="0.5">−0.2</text>
<text x="186.2" y="2433.1" font-size="65" textLength="147.9" lengthAdjust="spacingAndGlyphs" stroke="#fff" stroke-width="0.5">−0.4</text>
<text x="544.8" y="2512.4" font-size="65" textLength="127.2" lengthAdjust="spacingAndGlyphs" stroke="#fff" stroke-width="0.5">−14</text>
<text x="818.0" y="2512.4" font-size="65" textLength="127.5" lengthAdjust="spacingAndGlyphs" stroke="#fff" stroke-width="0.5">−12</text>
<text x="1086.4" y="2512.4" font-size="65" textLength="130.2" lengthAdjust="spacingAndGlyphs" stroke="#fff" stroke-width="0.5">−10</text>
<text x="1380.6" y="2512.4" font-size="65" textLength="90.2" lengthAdjust="spacingAndGlyphs" stroke="#fff" stroke-width="0.5">−8</text>
<text x="1653.8" y="2512.4" font-size="65" textLength="89.7" lengthAdjust="spacingAndGlyphs" stroke="#fff" stroke-width="0.5">−6</text>
<text x="647.2" y="2581.4" font-size="65" textLength="271.4" lengthAdjust="spacingAndGlyphs" stroke="#fff" stroke-width="0.5">Elevation</text>
<text x="951.9" y="2581.4" font-size="65" textLength="120.1" lengthAdjust="spacingAndGlyphs" stroke="#fff" stroke-width="0.5">look</text>
<text x="1105.0" y="2581.4" font-size="65" textLength="161.4" lengthAdjust="spacingAndGlyphs" stroke="#fff" stroke-width="0.5">angle</text>
<text x="1326.9" y="2581.4" font-size="65" textLength="109.7" lengthAdjust="spacingAndGlyphs" stroke="#fff" stroke-width="0.5">deg</text>
<text x="1295.6" y="2582.7" font-size="74.5" textLength="28.5" lengthAdjust="spacingAndGlyphs" stroke="#fff" stroke-width="0.5">[</text>
<text x="1437.9" y="2582.7" font-size="74.5" textLength="28.2" lengthAdjust="spacingAndGlyphs" stroke="#fff" stroke-width="0.5">]</text>
<text transform="translate(135 2384) rotate(-90)" font-size="65" textLength="147.1" lengthAdjust="spacingAndGlyphs" stroke="#fff" stroke-width="0.5">Delta</text>
<text transform="translate(135 2199.1) rotate(-90)" font-size="65" textLength="189.8" lengthAdjust="spacingAndGlyphs" stroke="#fff" stroke-width="0.5">profile</text>
<text transform="translate(135 1977.8) rotate(-90)" font-size="65" textLength="63.3" lengthAdjust="spacingAndGlyphs" stroke="#fff" stroke-width="0.5">vs</text>
<text transform="translate(135 1882.7) rotate(-90)" font-size="65" textLength="103.5" lengthAdjust="spacingAndGlyphs" stroke="#fff" stroke-width="0.5">ref.</text>
<text transform="translate(135 1748) rotate(-90)" font-size="65" textLength="119.0" lengthAdjust="spacingAndGlyphs" stroke="#fff" stroke-width="0.5">pat.</text>
<text transform="translate(135 1571.8) rotate(-90)" font-size="65" textLength="77.6" lengthAdjust="spacingAndGlyphs" stroke="#fff" stroke-width="0.5">dB</text>
<text transform="translate(133.7 1602.5) rotate(-90)" font-size="74.5" textLength="27.5" lengthAdjust="spacingAndGlyphs" stroke="#fff" stroke-width="0.5">[</text>
<text transform="translate(133.7 1491.7) rotate(-90)" font-size="74.5" textLength="26.0" lengthAdjust="spacingAndGlyphs" stroke="#fff" stroke-width="0.5">]</text>
<text x="33.1" y="2600.7" font-size="80" textLength="74.3" lengthAdjust="spacingAndGlyphs">b)</text>
<text x="1321.4" y="2631.6" font-size="26.5" textLength="94.7" lengthAdjust="spacingAndGlyphs" stroke="#fff" stroke-width="0.5">Created:</text>
<text x="1425.0" y="2631.6" font-size="26.5" textLength="26.9" lengthAdjust="spacingAndGlyphs" stroke="#fff" stroke-width="0.5">M.</text>
<text x="1461.1" y="2631.6" font-size="26.5" textLength="127.3" lengthAdjust="spacingAndGlyphs" stroke="#fff" stroke-width="0.5">Bachmann,</text>
<text x="1599.0" y="2631.6" font-size="26.5" textLength="263.8" lengthAdjust="spacingAndGlyphs" stroke="#fff" stroke-width="0.5">2007−12−11T11:56:13</text>
</svg>
</body></html>
